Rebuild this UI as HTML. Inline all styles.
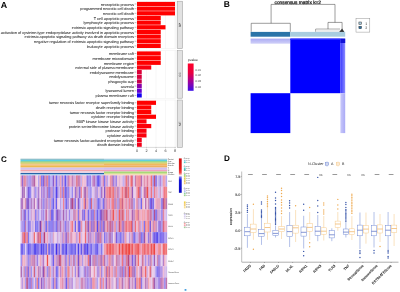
<!DOCTYPE html>
<html><head><meta charset="utf-8"><style>
html,body{margin:0;padding:0;background:#fff;overflow:hidden;}
svg{display:block;font-family:"Liberation Sans", sans-serif;text-rendering:geometricPrecision;filter:blur(0.3px);}
</style></head><body>
<svg width="400" height="292" viewBox="0 0 400 292">
<rect width="400" height="292" fill="#fff"/>
<text x="0.8" y="7.5" font-size="8.9" font-weight="bold" fill="#000">A</text>
<rect x="137.0" y="1.2" width="39.0" height="47.5" fill="#fff" stroke="#ebebeb" stroke-width="0.4"/>
<line x1="146.50" y1="1.2" x2="146.50" y2="48.7" stroke="#ebebeb" stroke-width="0.4"/>
<line x1="156.00" y1="1.2" x2="156.00" y2="48.7" stroke="#ebebeb" stroke-width="0.4"/>
<line x1="165.50" y1="1.2" x2="165.50" y2="48.7" stroke="#ebebeb" stroke-width="0.4"/>
<line x1="175.00" y1="1.2" x2="175.00" y2="48.7" stroke="#ebebeb" stroke-width="0.4"/>
<rect x="137.0" y="1.90" width="38.00" height="4.19" fill="#ff0000"/>
<text x="133.9" y="5.69" font-size="3.83" text-anchor="end" fill="#2a2a2a" stroke="#2a2a2a" stroke-width="0.05">necroptotic process</text>
<line x1="134.6" y1="3.99" x2="136.4" y2="3.99" stroke="#444" stroke-width="0.35"/>
<rect x="137.0" y="6.56" width="38.00" height="4.19" fill="#ff0000"/>
<text x="133.9" y="10.35" font-size="3.83" text-anchor="end" fill="#2a2a2a" stroke="#2a2a2a" stroke-width="0.05">programmed necrotic cell death</text>
<line x1="134.6" y1="8.65" x2="136.4" y2="8.65" stroke="#444" stroke-width="0.35"/>
<rect x="137.0" y="11.21" width="38.00" height="4.19" fill="#ff0000"/>
<text x="133.9" y="15.01" font-size="3.83" text-anchor="end" fill="#2a2a2a" stroke="#2a2a2a" stroke-width="0.05">necrotic cell death</text>
<line x1="134.6" y1="13.31" x2="136.4" y2="13.31" stroke="#444" stroke-width="0.35"/>
<rect x="137.0" y="15.87" width="23.75" height="4.19" fill="#ff0000"/>
<text x="133.9" y="19.66" font-size="3.83" text-anchor="end" fill="#2a2a2a" stroke="#2a2a2a" stroke-width="0.05">T cell apoptotic process</text>
<line x1="134.6" y1="17.96" x2="136.4" y2="17.96" stroke="#444" stroke-width="0.35"/>
<rect x="137.0" y="20.53" width="23.75" height="4.19" fill="#ff0000"/>
<text x="133.9" y="24.32" font-size="3.83" text-anchor="end" fill="#2a2a2a" stroke="#2a2a2a" stroke-width="0.05">lymphocyte apoptotic process</text>
<line x1="134.6" y1="22.62" x2="136.4" y2="22.62" stroke="#444" stroke-width="0.35"/>
<rect x="137.0" y="25.18" width="28.50" height="4.19" fill="#ff0000"/>
<text x="133.9" y="28.98" font-size="3.83" text-anchor="end" fill="#2a2a2a" stroke="#2a2a2a" stroke-width="0.05">extrinsic apoptotic signaling pathway</text>
<line x1="134.6" y1="27.28" x2="136.4" y2="27.28" stroke="#444" stroke-width="0.35"/>
<rect x="137.0" y="29.84" width="23.75" height="4.19" fill="#ff0000"/>
<text x="133.9" y="33.64" font-size="3.83" text-anchor="end" fill="#2a2a2a" stroke="#2a2a2a" stroke-width="0.05">activation of cysteine-type endopeptidase activity involved in apoptotic process</text>
<line x1="134.6" y1="31.94" x2="136.4" y2="31.94" stroke="#444" stroke-width="0.35"/>
<rect x="137.0" y="34.50" width="23.75" height="4.19" fill="#ff0000"/>
<text x="133.9" y="38.29" font-size="3.83" text-anchor="end" fill="#2a2a2a" stroke="#2a2a2a" stroke-width="0.05">extrinsic apoptotic signaling pathway via death domain receptors</text>
<line x1="134.6" y1="36.59" x2="136.4" y2="36.59" stroke="#444" stroke-width="0.35"/>
<rect x="137.0" y="39.15" width="23.75" height="4.19" fill="#ff0000"/>
<text x="133.9" y="42.95" font-size="3.83" text-anchor="end" fill="#2a2a2a" stroke="#2a2a2a" stroke-width="0.05">negative regulation of extrinsic apoptotic signaling pathway</text>
<line x1="134.6" y1="41.25" x2="136.4" y2="41.25" stroke="#444" stroke-width="0.35"/>
<rect x="137.0" y="43.81" width="23.75" height="4.19" fill="#ff0000"/>
<text x="133.9" y="47.61" font-size="3.83" text-anchor="end" fill="#2a2a2a" stroke="#2a2a2a" stroke-width="0.05">leukocyte apoptotic process</text>
<line x1="134.6" y1="45.91" x2="136.4" y2="45.91" stroke="#444" stroke-width="0.35"/>
<rect x="177.2" y="1.2" width="5.5" height="47.5" fill="#e2e2e2" stroke="#9a9a9a" stroke-width="0.5"/>
<text transform="translate(181.0,24.95) rotate(-90)" font-size="3.1" text-anchor="middle" fill="#333">BP</text>
<rect x="137.0" y="50.7" width="39.0" height="47.5" fill="#fff" stroke="#ebebeb" stroke-width="0.4"/>
<line x1="146.50" y1="50.7" x2="146.50" y2="98.2" stroke="#ebebeb" stroke-width="0.4"/>
<line x1="156.00" y1="50.7" x2="156.00" y2="98.2" stroke="#ebebeb" stroke-width="0.4"/>
<line x1="165.50" y1="50.7" x2="165.50" y2="98.2" stroke="#ebebeb" stroke-width="0.4"/>
<line x1="175.00" y1="50.7" x2="175.00" y2="98.2" stroke="#ebebeb" stroke-width="0.4"/>
<rect x="137.0" y="51.40" width="23.75" height="4.19" fill="#ff0000"/>
<text x="133.9" y="55.19" font-size="3.83" text-anchor="end" fill="#2a2a2a" stroke="#2a2a2a" stroke-width="0.05">membrane raft</text>
<line x1="134.6" y1="53.49" x2="136.4" y2="53.49" stroke="#444" stroke-width="0.35"/>
<rect x="137.0" y="56.06" width="23.75" height="4.19" fill="#ff0000"/>
<text x="133.9" y="59.85" font-size="3.83" text-anchor="end" fill="#2a2a2a" stroke="#2a2a2a" stroke-width="0.05">membrane microdomain</text>
<line x1="134.6" y1="58.15" x2="136.4" y2="58.15" stroke="#444" stroke-width="0.35"/>
<rect x="137.0" y="60.71" width="23.75" height="4.19" fill="#ff0000"/>
<text x="133.9" y="64.51" font-size="3.83" text-anchor="end" fill="#2a2a2a" stroke="#2a2a2a" stroke-width="0.05">membrane region</text>
<line x1="134.6" y1="62.81" x2="136.4" y2="62.81" stroke="#444" stroke-width="0.35"/>
<rect x="137.0" y="65.37" width="14.25" height="4.19" fill="#f80010"/>
<text x="133.9" y="69.16" font-size="3.83" text-anchor="end" fill="#2a2a2a" stroke="#2a2a2a" stroke-width="0.05">external side of plasma membrane</text>
<line x1="134.6" y1="67.46" x2="136.4" y2="67.46" stroke="#444" stroke-width="0.35"/>
<rect x="137.0" y="70.03" width="4.75" height="4.19" fill="#dc0038"/>
<text x="133.9" y="73.82" font-size="3.83" text-anchor="end" fill="#2a2a2a" stroke="#2a2a2a" stroke-width="0.05">endolysosome membrane</text>
<line x1="134.6" y1="72.12" x2="136.4" y2="72.12" stroke="#444" stroke-width="0.35"/>
<rect x="137.0" y="74.68" width="4.75" height="4.19" fill="#d8003e"/>
<text x="133.9" y="78.48" font-size="3.83" text-anchor="end" fill="#2a2a2a" stroke="#2a2a2a" stroke-width="0.05">endolysosome</text>
<line x1="134.6" y1="76.78" x2="136.4" y2="76.78" stroke="#444" stroke-width="0.35"/>
<rect x="137.0" y="79.34" width="4.75" height="4.19" fill="#c8004c"/>
<text x="133.9" y="83.14" font-size="3.83" text-anchor="end" fill="#2a2a2a" stroke="#2a2a2a" stroke-width="0.05">phagocytic cup</text>
<line x1="134.6" y1="81.44" x2="136.4" y2="81.44" stroke="#444" stroke-width="0.35"/>
<rect x="137.0" y="84.00" width="4.75" height="4.19" fill="#8a00a8"/>
<text x="133.9" y="87.79" font-size="3.83" text-anchor="end" fill="#2a2a2a" stroke="#2a2a2a" stroke-width="0.05">caveola</text>
<line x1="134.6" y1="86.09" x2="136.4" y2="86.09" stroke="#444" stroke-width="0.35"/>
<rect x="137.0" y="88.65" width="4.75" height="4.19" fill="#6400d0"/>
<text x="133.9" y="92.45" font-size="3.83" text-anchor="end" fill="#2a2a2a" stroke="#2a2a2a" stroke-width="0.05">lysosomal lumen</text>
<line x1="134.6" y1="90.75" x2="136.4" y2="90.75" stroke="#444" stroke-width="0.35"/>
<rect x="137.0" y="93.31" width="4.75" height="4.19" fill="#1400f0"/>
<text x="133.9" y="97.11" font-size="3.83" text-anchor="end" fill="#2a2a2a" stroke="#2a2a2a" stroke-width="0.05">plasma membrane raft</text>
<line x1="134.6" y1="95.41" x2="136.4" y2="95.41" stroke="#444" stroke-width="0.35"/>
<rect x="177.2" y="50.7" width="5.5" height="47.5" fill="#e2e2e2" stroke="#9a9a9a" stroke-width="0.5"/>
<text transform="translate(181.0,74.45) rotate(-90)" font-size="3.1" text-anchor="middle" fill="#333">CC</text>
<rect x="137.0" y="100.0" width="39.0" height="47.5" fill="#fff" stroke="#ebebeb" stroke-width="0.4"/>
<line x1="146.50" y1="100.0" x2="146.50" y2="147.5" stroke="#ebebeb" stroke-width="0.4"/>
<line x1="156.00" y1="100.0" x2="156.00" y2="147.5" stroke="#ebebeb" stroke-width="0.4"/>
<line x1="165.50" y1="100.0" x2="165.50" y2="147.5" stroke="#ebebeb" stroke-width="0.4"/>
<line x1="175.00" y1="100.0" x2="175.00" y2="147.5" stroke="#ebebeb" stroke-width="0.4"/>
<rect x="137.0" y="100.70" width="19.00" height="4.19" fill="#ff0000"/>
<text x="133.9" y="104.49" font-size="3.83" text-anchor="end" fill="#2a2a2a" stroke="#2a2a2a" stroke-width="0.05">tumor necrosis factor receptor superfamily binding</text>
<line x1="134.6" y1="102.79" x2="136.4" y2="102.79" stroke="#444" stroke-width="0.35"/>
<rect x="137.0" y="105.36" width="14.25" height="4.19" fill="#ff0000"/>
<text x="133.9" y="109.15" font-size="3.83" text-anchor="end" fill="#2a2a2a" stroke="#2a2a2a" stroke-width="0.05">death receptor binding</text>
<line x1="134.6" y1="107.45" x2="136.4" y2="107.45" stroke="#444" stroke-width="0.35"/>
<rect x="137.0" y="110.01" width="14.25" height="4.19" fill="#ff0000"/>
<text x="133.9" y="113.81" font-size="3.83" text-anchor="end" fill="#2a2a2a" stroke="#2a2a2a" stroke-width="0.05">tumor necrosis factor receptor binding</text>
<line x1="134.6" y1="112.11" x2="136.4" y2="112.11" stroke="#444" stroke-width="0.35"/>
<rect x="137.0" y="114.67" width="19.00" height="4.19" fill="#ff0000"/>
<text x="133.9" y="118.46" font-size="3.83" text-anchor="end" fill="#2a2a2a" stroke="#2a2a2a" stroke-width="0.05">cytokine receptor binding</text>
<line x1="134.6" y1="116.76" x2="136.4" y2="116.76" stroke="#444" stroke-width="0.35"/>
<rect x="137.0" y="119.33" width="9.50" height="4.19" fill="#fc0008"/>
<text x="133.9" y="123.12" font-size="3.83" text-anchor="end" fill="#2a2a2a" stroke="#2a2a2a" stroke-width="0.05">MAP kinase kinase kinase activity</text>
<line x1="134.6" y1="121.42" x2="136.4" y2="121.42" stroke="#444" stroke-width="0.35"/>
<rect x="137.0" y="123.98" width="14.25" height="4.19" fill="#fc0008"/>
<text x="133.9" y="127.78" font-size="3.83" text-anchor="end" fill="#2a2a2a" stroke="#2a2a2a" stroke-width="0.05">protein serine/threonine kinase activity</text>
<line x1="134.6" y1="126.08" x2="136.4" y2="126.08" stroke="#444" stroke-width="0.35"/>
<rect x="137.0" y="128.64" width="9.50" height="4.19" fill="#fa000c"/>
<text x="133.9" y="132.44" font-size="3.83" text-anchor="end" fill="#2a2a2a" stroke="#2a2a2a" stroke-width="0.05">protease binding</text>
<line x1="134.6" y1="130.74" x2="136.4" y2="130.74" stroke="#444" stroke-width="0.35"/>
<rect x="137.0" y="133.30" width="9.50" height="4.19" fill="#fa000c"/>
<text x="133.9" y="137.09" font-size="3.83" text-anchor="end" fill="#2a2a2a" stroke="#2a2a2a" stroke-width="0.05">cytokine activity</text>
<line x1="134.6" y1="135.39" x2="136.4" y2="135.39" stroke="#444" stroke-width="0.35"/>
<rect x="137.0" y="137.95" width="4.75" height="4.19" fill="#f20018"/>
<text x="133.9" y="141.75" font-size="3.83" text-anchor="end" fill="#2a2a2a" stroke="#2a2a2a" stroke-width="0.05">tumor necrosis factor-activated receptor activity</text>
<line x1="134.6" y1="140.05" x2="136.4" y2="140.05" stroke="#444" stroke-width="0.35"/>
<rect x="137.0" y="142.61" width="4.75" height="4.19" fill="#f20018"/>
<text x="133.9" y="146.41" font-size="3.83" text-anchor="end" fill="#2a2a2a" stroke="#2a2a2a" stroke-width="0.05">death domain binding</text>
<line x1="134.6" y1="144.71" x2="136.4" y2="144.71" stroke="#444" stroke-width="0.35"/>
<rect x="177.2" y="100.0" width="5.5" height="47.5" fill="#e2e2e2" stroke="#9a9a9a" stroke-width="0.5"/>
<text transform="translate(181.0,123.75) rotate(-90)" font-size="3.1" text-anchor="middle" fill="#333">MF</text>
<line x1="137.0" y1="147.4" x2="176.0" y2="147.4" stroke="#b4b4b4" stroke-width="0.4"/>
<line x1="137.00" y1="147.4" x2="137.00" y2="148.4" stroke="#888" stroke-width="0.35"/>
<text x="137.00" y="152.1" font-size="3.7" text-anchor="middle" fill="#333">0</text>
<line x1="146.50" y1="147.4" x2="146.50" y2="148.4" stroke="#888" stroke-width="0.35"/>
<text x="146.50" y="152.1" font-size="3.7" text-anchor="middle" fill="#333">2</text>
<line x1="156.00" y1="147.4" x2="156.00" y2="148.4" stroke="#888" stroke-width="0.35"/>
<text x="156.00" y="152.1" font-size="3.7" text-anchor="middle" fill="#333">4</text>
<line x1="165.50" y1="147.4" x2="165.50" y2="148.4" stroke="#888" stroke-width="0.35"/>
<text x="165.50" y="152.1" font-size="3.7" text-anchor="middle" fill="#333">6</text>
<line x1="175.00" y1="147.4" x2="175.00" y2="148.4" stroke="#888" stroke-width="0.35"/>
<text x="175.00" y="152.1" font-size="3.7" text-anchor="middle" fill="#333">8</text>
<text x="187.9" y="61.3" font-size="3.4" fill="#1a1a1a">pvalue</text>
<defs><linearGradient id="pg" x1="0" y1="0" x2="0" y2="1"><stop offset="0" stop-color="#ff0028"/><stop offset="0.35" stop-color="#e80040"/><stop offset="0.65" stop-color="#a40098"/><stop offset="1" stop-color="#3c10e8"/></linearGradient></defs>
<rect x="187.8" y="63.5" width="5.8" height="27.3" fill="url(#pg)"/>
<text x="195.2" y="70.60" font-size="3" fill="#4d4d4d">0.01</text>
<text x="195.2" y="76.45" font-size="3" fill="#4d4d4d">0.02</text>
<text x="195.2" y="82.30" font-size="3" fill="#4d4d4d">0.03</text>
<text x="195.2" y="88.15" font-size="3" fill="#4d4d4d">0.04</text>
<text x="223.8" y="6.9" font-size="8.5" font-weight="bold" fill="#000">B</text>
<text x="274.5" y="3.9" font-size="4.8" fill="#111" stroke="#111" stroke-width="0.22">consensus matrix k=2</text>
<path d="M271.1 4.4 H335.0 M271.1 4.4 V23.3 M335.0 4.4 V22.4 M251.2 23.3 H290.3 M251.2 23.3 V31.8 M290.3 23.3 V31.8 M328 22.4 H342.1 M328 22.4 V29.1 M342.1 22.4 V29.5 M315.7 29.1 H340 M315.7 29.1 V31.8" stroke="#3a3a3a" stroke-width="0.5" fill="none"/>
<rect x="316" y="29.6" width="24" height="2.2" fill="#ececec"/>
<path d="M339.2 31.9 L342.1 28.4 L344.4 31.9 Z" fill="#333"/>
<rect x="250.6" y="31.9" width="39.7" height="4.8" fill="#2a74a8"/>
<rect x="290.3" y="31.9" width="54.9" height="4.8" fill="#a9cde0"/>
<rect x="250.6" y="38.6" width="94.6" height="94.5" fill="#fff"/>
<defs><linearGradient id="lav" x1="0" y1="0" x2="0" y2="1"><stop offset="0" stop-color="#acacf4"/><stop offset="1" stop-color="#d0d0f8"/></linearGradient><linearGradient id="rs" x1="0" y1="0" x2="1" y2="0"><stop offset="0" stop-color="#3a3aff"/><stop offset="1" stop-color="#8a8aff"/></linearGradient><linearGradient id="rs2" x1="0" y1="0" x2="1" y2="0"><stop offset="0" stop-color="#c8c8fa"/><stop offset="1" stop-color="#aaaaf6"/></linearGradient></defs>
<rect x="250.6" y="38.6" width="39.7" height="5.1" fill="url(#lav)"/>
<rect x="290.3" y="38.6" width="50.1" height="54.6" fill="#0000ff"/>
<rect x="250.6" y="93.2" width="39.7" height="39.9" fill="#0000ff"/>
<rect x="290.3" y="38.6" width="50.1" height="1.4" fill="#2828ff"/>
<rect x="340.4" y="38.6" width="4.8" height="54.6" fill="url(#rs)"/>
<rect x="340.4" y="38.6" width="4.8" height="4.4" fill="#1010d8"/>
<rect x="340.4" y="93.2" width="4.8" height="39.9" fill="url(#rs2)"/>
<rect x="356" y="18.3" width="13.8" height="13.8" fill="#fff" stroke="#888" stroke-width="0.45"/>
<rect x="358.9" y="22.0" width="2.6" height="2.4" fill="#a9cde0" stroke="#333" stroke-width="0.5"/>
<rect x="358.9" y="26.3" width="2.6" height="2.4" fill="#2a74a8" stroke="#333" stroke-width="0.5"/>
<text x="365.3" y="24.6" font-size="3.5" fill="#333">1</text>
<text x="365.3" y="28.9" font-size="3.5" fill="#333">2</text>
<text x="1.1" y="161.6" font-size="8.1" font-weight="bold" fill="#000">C</text>
<rect x="20.5" y="158.75" width="83.5" height="1.00" fill="#7aa8b4"/>
<rect x="104.0" y="158.75" width="63.099999999999994" height="1.00" fill="#a0c0d8"/>
<rect x="20.5" y="159.75" width="83.5" height="1.50" fill="#5ccfe4"/>
<rect x="104.0" y="159.75" width="63.099999999999994" height="1.50" fill="#60d0e0"/>
<rect x="20.5" y="161.25" width="83.5" height="1.25" fill="#78c880"/>
<rect x="104.0" y="161.25" width="63.099999999999994" height="1.25" fill="#80d070"/>
<rect x="20.5" y="162.5" width="83.5" height="1.25" fill="#c4c84a"/>
<rect x="104.0" y="162.5" width="63.099999999999994" height="1.25" fill="#d0c850"/>
<rect x="20.5" y="163.75" width="83.5" height="1.50" fill="#f2c88e"/>
<rect x="104.0" y="163.75" width="63.099999999999994" height="1.50" fill="#f0b860"/>
<rect x="20.5" y="165.25" width="83.5" height="2.35" fill="#f0b850"/>
<rect x="104.0" y="165.25" width="63.099999999999994" height="2.35" fill="#f0b060"/>
<rect x="20.5" y="167.6" width="83.5" height="2.20" fill="#d4c4f0"/>
<rect x="104.0" y="167.6" width="63.099999999999994" height="2.20" fill="#d0c0f0"/>
<rect x="20.5" y="169.8" width="83.5" height="1.70" fill="#f2a4ac"/>
<rect x="104.0" y="169.8" width="63.099999999999994" height="1.70" fill="#f0a0c0"/>
<rect x="20.5" y="171.5" width="83.5" height="1.50" fill="#e4d4e6"/>
<rect x="104.0" y="171.5" width="63.099999999999994" height="1.50" fill="#a8d878"/>
<rect x="20.5" y="173.0" width="83.5" height="1.40" fill="#2464a8"/>
<rect x="104.0" y="173.0" width="63.099999999999994" height="1.40" fill="#d0e098"/>
<rect x="20.5" y="174.4" width="83.5" height="1.00" fill="#a8d4f0"/>
<rect x="104.0" y="174.4" width="63.099999999999994" height="1.00" fill="#f8d0a8"/>
<rect x="20.50" y="175.40" width="1.52" height="11.40" fill="#d797c1"/>
<rect x="21.97" y="175.40" width="1.52" height="11.40" fill="#946ad5"/>
<rect x="23.43" y="175.40" width="1.52" height="11.40" fill="#dd83a3"/>
<rect x="24.90" y="175.40" width="1.52" height="11.40" fill="#e695ac"/>
<rect x="26.36" y="175.40" width="1.52" height="11.40" fill="#b788d1"/>
<rect x="27.83" y="175.40" width="1.52" height="11.40" fill="#b5a5f1"/>
<rect x="29.30" y="175.40" width="1.52" height="11.40" fill="#9282ef"/>
<rect x="30.76" y="175.40" width="1.52" height="11.40" fill="#c49cdd"/>
<rect x="32.23" y="175.40" width="1.52" height="11.40" fill="#b370b4"/>
<rect x="33.69" y="175.40" width="1.52" height="11.40" fill="#b461a6"/>
<rect x="35.16" y="175.40" width="1.52" height="11.40" fill="#e3b4d3"/>
<rect x="36.63" y="175.40" width="1.52" height="11.40" fill="#f1d6ea"/>
<rect x="38.09" y="175.40" width="1.52" height="11.40" fill="#ac9aee"/>
<rect x="39.56" y="175.40" width="1.52" height="11.40" fill="#e99cb0"/>
<rect x="41.02" y="175.40" width="1.52" height="11.40" fill="#8676ee"/>
<rect x="42.49" y="175.40" width="1.52" height="11.40" fill="#8261df"/>
<rect x="43.96" y="175.40" width="1.52" height="11.40" fill="#c881b1"/>
<rect x="45.42" y="175.40" width="1.52" height="11.40" fill="#b679c4"/>
<rect x="46.89" y="175.40" width="1.52" height="11.40" fill="#e78698"/>
<rect x="48.35" y="175.40" width="1.52" height="11.40" fill="#7b68e9"/>
<rect x="49.82" y="175.40" width="1.52" height="11.40" fill="#beaef1"/>
<rect x="51.29" y="175.40" width="1.52" height="11.40" fill="#ae9ef1"/>
<rect x="52.75" y="175.40" width="1.52" height="11.40" fill="#895acd"/>
<rect x="54.22" y="175.40" width="1.52" height="11.40" fill="#d7a5d7"/>
<rect x="55.68" y="175.40" width="1.52" height="11.40" fill="#7566ed"/>
<rect x="57.15" y="175.40" width="1.52" height="11.40" fill="#b99ce7"/>
<rect x="58.62" y="175.40" width="1.52" height="11.40" fill="#bfa1e6"/>
<rect x="60.08" y="175.40" width="1.52" height="11.40" fill="#eca0b8"/>
<rect x="61.55" y="175.40" width="1.52" height="11.40" fill="#977ce5"/>
<rect x="63.01" y="175.40" width="1.52" height="11.40" fill="#dba9d7"/>
<rect x="64.48" y="175.40" width="1.52" height="11.40" fill="#6152ec"/>
<rect x="65.95" y="175.40" width="1.52" height="11.40" fill="#b5a3ef"/>
<rect x="67.41" y="175.40" width="1.52" height="11.40" fill="#b474bf"/>
<rect x="68.88" y="175.40" width="1.52" height="11.40" fill="#e89bb7"/>
<rect x="70.34" y="175.40" width="1.52" height="11.40" fill="#e7a4c5"/>
<rect x="71.81" y="175.40" width="1.52" height="11.40" fill="#c180bd"/>
<rect x="73.28" y="175.40" width="1.52" height="11.40" fill="#cd98d0"/>
<rect x="74.74" y="175.40" width="1.52" height="11.40" fill="#dcb3df"/>
<rect x="76.21" y="175.40" width="1.52" height="11.40" fill="#db657a"/>
<rect x="77.67" y="175.40" width="1.52" height="11.40" fill="#c77eb6"/>
<rect x="79.14" y="175.40" width="1.52" height="11.40" fill="#c876ad"/>
<rect x="80.61" y="175.40" width="1.52" height="11.40" fill="#c6b0ec"/>
<rect x="82.07" y="175.40" width="1.52" height="11.40" fill="#f0b2c7"/>
<rect x="83.54" y="175.40" width="1.52" height="11.40" fill="#edbfda"/>
<rect x="85.00" y="175.40" width="1.52" height="11.40" fill="#f0bfd9"/>
<rect x="86.47" y="175.40" width="1.52" height="11.40" fill="#9072e2"/>
<rect x="87.94" y="175.40" width="1.52" height="11.40" fill="#a090f0"/>
<rect x="89.40" y="175.40" width="1.52" height="11.40" fill="#8671ea"/>
<rect x="90.87" y="175.40" width="1.52" height="11.40" fill="#d2c2f3"/>
<rect x="92.33" y="175.40" width="1.52" height="11.40" fill="#ba78bf"/>
<rect x="93.80" y="175.40" width="1.52" height="11.40" fill="#bb74bc"/>
<rect x="95.27" y="175.40" width="1.52" height="11.40" fill="#b695e3"/>
<rect x="96.73" y="175.40" width="1.52" height="11.40" fill="#7768ed"/>
<rect x="98.20" y="175.40" width="1.52" height="11.40" fill="#493beb"/>
<rect x="99.66" y="175.40" width="1.52" height="11.40" fill="#ac95eb"/>
<rect x="101.13" y="175.40" width="1.52" height="11.40" fill="#d6aadb"/>
<rect x="102.60" y="175.40" width="1.52" height="11.40" fill="#d184b5"/>
<rect x="104.06" y="175.40" width="1.52" height="11.40" fill="#7a6ced"/>
<rect x="105.53" y="175.40" width="1.52" height="11.40" fill="#daa1d0"/>
<rect x="106.99" y="175.40" width="1.52" height="11.40" fill="#bea4e9"/>
<rect x="108.46" y="175.40" width="1.52" height="11.40" fill="#f1c9e1"/>
<rect x="109.93" y="175.40" width="1.52" height="11.40" fill="#ef93a3"/>
<rect x="111.39" y="175.40" width="1.52" height="11.40" fill="#ca75a6"/>
<rect x="112.86" y="175.40" width="1.52" height="11.40" fill="#a27edf"/>
<rect x="114.32" y="175.40" width="1.52" height="11.40" fill="#bb93dc"/>
<rect x="115.79" y="175.40" width="1.52" height="11.40" fill="#a186e6"/>
<rect x="117.26" y="175.40" width="1.52" height="11.40" fill="#efbfd4"/>
<rect x="118.72" y="175.40" width="1.52" height="11.40" fill="#e3b4d4"/>
<rect x="120.19" y="175.40" width="1.52" height="11.40" fill="#ecbdd7"/>
<rect x="121.65" y="175.40" width="1.52" height="11.40" fill="#dcbce7"/>
<rect x="123.12" y="175.40" width="1.52" height="11.40" fill="#baa9ef"/>
<rect x="124.59" y="175.40" width="1.52" height="11.40" fill="#df95ba"/>
<rect x="126.05" y="175.40" width="1.52" height="11.40" fill="#ef7375"/>
<rect x="127.52" y="175.40" width="1.52" height="11.40" fill="#c482b5"/>
<rect x="128.98" y="175.40" width="1.52" height="11.40" fill="#f0bdd7"/>
<rect x="130.45" y="175.40" width="1.52" height="11.40" fill="#ee696e"/>
<rect x="131.92" y="175.40" width="1.52" height="11.40" fill="#d97899"/>
<rect x="133.38" y="175.40" width="1.52" height="11.40" fill="#dacaf3"/>
<rect x="134.85" y="175.40" width="1.52" height="11.40" fill="#ca7bab"/>
<rect x="136.31" y="175.40" width="1.52" height="11.40" fill="#ef8892"/>
<rect x="137.78" y="175.40" width="1.52" height="11.40" fill="#ef8ea2"/>
<rect x="139.25" y="175.40" width="1.52" height="11.40" fill="#ef757d"/>
<rect x="140.71" y="175.40" width="1.52" height="11.40" fill="#b56eb8"/>
<rect x="142.18" y="175.40" width="1.52" height="11.40" fill="#e5b9d9"/>
<rect x="143.64" y="175.40" width="1.52" height="11.40" fill="#e294b0"/>
<rect x="145.11" y="175.40" width="1.52" height="11.40" fill="#efaec8"/>
<rect x="146.58" y="175.40" width="1.52" height="11.40" fill="#df83a0"/>
<rect x="148.04" y="175.40" width="1.52" height="11.40" fill="#edb0c5"/>
<rect x="149.51" y="175.40" width="1.52" height="11.40" fill="#efa4c0"/>
<rect x="150.97" y="175.40" width="1.52" height="11.40" fill="#ef7579"/>
<rect x="152.44" y="175.40" width="1.52" height="11.40" fill="#9e8ff0"/>
<rect x="153.91" y="175.40" width="1.52" height="11.40" fill="#c4507b"/>
<rect x="155.37" y="175.40" width="1.52" height="11.40" fill="#7b60e3"/>
<rect x="156.84" y="175.40" width="1.52" height="11.40" fill="#d9c3ee"/>
<rect x="158.30" y="175.40" width="1.52" height="11.40" fill="#ae9ff1"/>
<rect x="159.77" y="175.40" width="1.52" height="11.40" fill="#b588d9"/>
<rect x="161.24" y="175.40" width="1.52" height="11.40" fill="#bdadf2"/>
<rect x="162.70" y="175.40" width="1.52" height="11.40" fill="#f0a0ad"/>
<rect x="164.17" y="175.40" width="1.52" height="11.40" fill="#ef97aa"/>
<rect x="165.63" y="175.40" width="1.52" height="11.40" fill="#b7a6f0"/>
<rect x="20.50" y="186.75" width="1.52" height="11.40" fill="#e6cceb"/>
<rect x="21.97" y="186.75" width="1.52" height="11.40" fill="#a26ac1"/>
<rect x="23.43" y="186.75" width="1.52" height="11.40" fill="#ac6ab4"/>
<rect x="24.90" y="186.75" width="1.52" height="11.40" fill="#eddbf2"/>
<rect x="26.36" y="186.75" width="1.52" height="11.40" fill="#b498e7"/>
<rect x="27.83" y="186.75" width="1.52" height="11.40" fill="#7a5be0"/>
<rect x="29.30" y="186.75" width="1.52" height="11.40" fill="#6859ed"/>
<rect x="30.76" y="186.75" width="1.52" height="11.40" fill="#d1bdef"/>
<rect x="32.23" y="186.75" width="1.52" height="11.40" fill="#e5c5e7"/>
<rect x="33.69" y="186.75" width="1.52" height="11.40" fill="#be98df"/>
<rect x="35.16" y="186.75" width="1.52" height="11.40" fill="#9989ef"/>
<rect x="36.63" y="186.75" width="1.52" height="11.40" fill="#d3b4e6"/>
<rect x="38.09" y="186.75" width="1.52" height="11.40" fill="#a375d1"/>
<rect x="39.56" y="186.75" width="1.52" height="11.40" fill="#f1cde3"/>
<rect x="41.02" y="186.75" width="1.52" height="11.40" fill="#a785e1"/>
<rect x="42.49" y="186.75" width="1.52" height="11.40" fill="#b587d8"/>
<rect x="43.96" y="186.75" width="1.52" height="11.40" fill="#b58cdc"/>
<rect x="45.42" y="186.75" width="1.52" height="11.40" fill="#bda1e8"/>
<rect x="46.89" y="186.75" width="1.52" height="11.40" fill="#bc79b4"/>
<rect x="48.35" y="186.75" width="1.52" height="11.40" fill="#6d5eed"/>
<rect x="49.82" y="186.75" width="1.52" height="11.40" fill="#b58cdb"/>
<rect x="51.29" y="186.75" width="1.52" height="11.40" fill="#b980c3"/>
<rect x="52.75" y="186.75" width="1.52" height="11.40" fill="#9586ef"/>
<rect x="54.22" y="186.75" width="1.52" height="11.40" fill="#b6a0ec"/>
<rect x="55.68" y="186.75" width="1.52" height="11.40" fill="#5344eb"/>
<rect x="57.15" y="186.75" width="1.52" height="11.40" fill="#8f70e1"/>
<rect x="58.62" y="186.75" width="1.52" height="11.40" fill="#cebaef"/>
<rect x="60.08" y="186.75" width="1.52" height="11.40" fill="#e288a3"/>
<rect x="61.55" y="186.75" width="1.52" height="11.40" fill="#a582e1"/>
<rect x="63.01" y="186.75" width="1.52" height="11.40" fill="#df7e98"/>
<rect x="64.48" y="186.75" width="1.52" height="11.40" fill="#7162ed"/>
<rect x="65.95" y="186.75" width="1.52" height="11.40" fill="#8f71e2"/>
<rect x="67.41" y="186.75" width="1.52" height="11.40" fill="#8677ee"/>
<rect x="68.88" y="186.75" width="1.52" height="11.40" fill="#cda7e0"/>
<rect x="70.34" y="186.75" width="1.52" height="11.40" fill="#c5b5f2"/>
<rect x="71.81" y="186.75" width="1.52" height="11.40" fill="#998aef"/>
<rect x="73.28" y="186.75" width="1.52" height="11.40" fill="#ebc6e2"/>
<rect x="74.74" y="186.75" width="1.52" height="11.40" fill="#9e6fd1"/>
<rect x="76.21" y="186.75" width="1.52" height="11.40" fill="#c17fb5"/>
<rect x="77.67" y="186.75" width="1.52" height="11.40" fill="#c3a6e6"/>
<rect x="79.14" y="186.75" width="1.52" height="11.40" fill="#7a54da"/>
<rect x="80.61" y="186.75" width="1.52" height="11.40" fill="#ef8a9b"/>
<rect x="82.07" y="186.75" width="1.52" height="11.40" fill="#eccee8"/>
<rect x="83.54" y="186.75" width="1.52" height="11.40" fill="#b776b9"/>
<rect x="85.00" y="186.75" width="1.52" height="11.40" fill="#ab6ab6"/>
<rect x="86.47" y="186.75" width="1.52" height="11.40" fill="#dc9dbf"/>
<rect x="87.94" y="186.75" width="1.52" height="11.40" fill="#b8a8f1"/>
<rect x="89.40" y="186.75" width="1.52" height="11.40" fill="#9c89ed"/>
<rect x="90.87" y="186.75" width="1.52" height="11.40" fill="#b8a8f1"/>
<rect x="92.33" y="186.75" width="1.52" height="11.40" fill="#e4c4e6"/>
<rect x="93.80" y="186.75" width="1.52" height="11.40" fill="#d2b7ea"/>
<rect x="95.27" y="186.75" width="1.52" height="11.40" fill="#b381cc"/>
<rect x="96.73" y="186.75" width="1.52" height="11.40" fill="#b195e6"/>
<rect x="98.20" y="186.75" width="1.52" height="11.40" fill="#e5b2d7"/>
<rect x="99.66" y="186.75" width="1.52" height="11.40" fill="#b7a7f0"/>
<rect x="101.13" y="186.75" width="1.52" height="11.40" fill="#9c61be"/>
<rect x="102.60" y="186.75" width="1.52" height="11.40" fill="#e6bcdd"/>
<rect x="104.06" y="186.75" width="1.52" height="11.40" fill="#824ec6"/>
<rect x="105.53" y="186.75" width="1.52" height="11.40" fill="#ef94a3"/>
<rect x="106.99" y="186.75" width="1.52" height="11.40" fill="#ef8694"/>
<rect x="108.46" y="186.75" width="1.52" height="11.40" fill="#ee6d77"/>
<rect x="109.93" y="186.75" width="1.52" height="11.40" fill="#e6737d"/>
<rect x="111.39" y="186.75" width="1.52" height="11.40" fill="#e8808e"/>
<rect x="112.86" y="186.75" width="1.52" height="11.40" fill="#ef7479"/>
<rect x="114.32" y="186.75" width="1.52" height="11.40" fill="#bf7eba"/>
<rect x="115.79" y="186.75" width="1.52" height="11.40" fill="#e7a5bb"/>
<rect x="117.26" y="186.75" width="1.52" height="11.40" fill="#b566aa"/>
<rect x="118.72" y="186.75" width="1.52" height="11.40" fill="#d0a9df"/>
<rect x="120.19" y="186.75" width="1.52" height="11.40" fill="#efa6bd"/>
<rect x="121.65" y="186.75" width="1.52" height="11.40" fill="#ee7a85"/>
<rect x="123.12" y="186.75" width="1.52" height="11.40" fill="#ee96af"/>
<rect x="124.59" y="186.75" width="1.52" height="11.40" fill="#d7627a"/>
<rect x="126.05" y="186.75" width="1.52" height="11.40" fill="#ca5b81"/>
<rect x="127.52" y="186.75" width="1.52" height="11.40" fill="#ef7073"/>
<rect x="128.98" y="186.75" width="1.52" height="11.40" fill="#dea3c7"/>
<rect x="130.45" y="186.75" width="1.52" height="11.40" fill="#d996b6"/>
<rect x="131.92" y="186.75" width="1.52" height="11.40" fill="#975bbc"/>
<rect x="133.38" y="186.75" width="1.52" height="11.40" fill="#eacfea"/>
<rect x="134.85" y="186.75" width="1.52" height="11.40" fill="#eacbe8"/>
<rect x="136.31" y="186.75" width="1.52" height="11.40" fill="#ef8e9f"/>
<rect x="137.78" y="186.75" width="1.52" height="11.40" fill="#ee646a"/>
<rect x="139.25" y="186.75" width="1.52" height="11.40" fill="#b44f8f"/>
<rect x="140.71" y="186.75" width="1.52" height="11.40" fill="#bcacf1"/>
<rect x="142.18" y="186.75" width="1.52" height="11.40" fill="#efc9e2"/>
<rect x="143.64" y="186.75" width="1.52" height="11.40" fill="#c272b0"/>
<rect x="145.11" y="186.75" width="1.52" height="11.40" fill="#ca72a4"/>
<rect x="146.58" y="186.75" width="1.52" height="11.40" fill="#ee504c"/>
<rect x="148.04" y="186.75" width="1.52" height="11.40" fill="#e19abf"/>
<rect x="149.51" y="186.75" width="1.52" height="11.40" fill="#dda6cc"/>
<rect x="150.97" y="186.75" width="1.52" height="11.40" fill="#ee7483"/>
<rect x="152.44" y="186.75" width="1.52" height="11.40" fill="#beaef2"/>
<rect x="153.91" y="186.75" width="1.52" height="11.40" fill="#ee7b8b"/>
<rect x="155.37" y="186.75" width="1.52" height="11.40" fill="#d79cc3"/>
<rect x="156.84" y="186.75" width="1.52" height="11.40" fill="#efb5d0"/>
<rect x="158.30" y="186.75" width="1.52" height="11.40" fill="#c7b1ec"/>
<rect x="159.77" y="186.75" width="1.52" height="11.40" fill="#d69dc4"/>
<rect x="161.24" y="186.75" width="1.52" height="11.40" fill="#dec8ee"/>
<rect x="162.70" y="186.75" width="1.52" height="11.40" fill="#ee97b5"/>
<rect x="164.17" y="186.75" width="1.52" height="11.40" fill="#ee646a"/>
<rect x="165.63" y="186.75" width="1.52" height="11.40" fill="#ef868d"/>
<rect x="20.50" y="198.10" width="1.52" height="11.40" fill="#b07cca"/>
<rect x="21.97" y="198.10" width="1.52" height="11.40" fill="#b575be"/>
<rect x="23.43" y="198.10" width="1.52" height="11.40" fill="#f1c9e0"/>
<rect x="24.90" y="198.10" width="1.52" height="11.40" fill="#d694b6"/>
<rect x="26.36" y="198.10" width="1.52" height="11.40" fill="#7d4ecc"/>
<rect x="27.83" y="198.10" width="1.52" height="11.40" fill="#8b5aca"/>
<rect x="29.30" y="198.10" width="1.52" height="11.40" fill="#b297e8"/>
<rect x="30.76" y="198.10" width="1.52" height="11.40" fill="#b580c8"/>
<rect x="32.23" y="198.10" width="1.52" height="11.40" fill="#cea8e0"/>
<rect x="33.69" y="198.10" width="1.52" height="11.40" fill="#b573b9"/>
<rect x="35.16" y="198.10" width="1.52" height="11.40" fill="#f1d0e6"/>
<rect x="36.63" y="198.10" width="1.52" height="11.40" fill="#b593e1"/>
<rect x="38.09" y="198.10" width="1.52" height="11.40" fill="#9755b3"/>
<rect x="39.56" y="198.10" width="1.52" height="11.40" fill="#dfbde4"/>
<rect x="41.02" y="198.10" width="1.52" height="11.40" fill="#b584cd"/>
<rect x="42.49" y="198.10" width="1.52" height="11.40" fill="#9b8aee"/>
<rect x="43.96" y="198.10" width="1.52" height="11.40" fill="#b694e2"/>
<rect x="45.42" y="198.10" width="1.52" height="11.40" fill="#b37fca"/>
<rect x="46.89" y="198.10" width="1.52" height="11.40" fill="#d69dc8"/>
<rect x="48.35" y="198.10" width="1.52" height="11.40" fill="#a589e5"/>
<rect x="49.82" y="198.10" width="1.52" height="11.40" fill="#d59dc6"/>
<rect x="51.29" y="198.10" width="1.52" height="11.40" fill="#8e7eef"/>
<rect x="52.75" y="198.10" width="1.52" height="11.40" fill="#6d5fed"/>
<rect x="54.22" y="198.10" width="1.52" height="11.40" fill="#cba7e2"/>
<rect x="55.68" y="198.10" width="1.52" height="11.40" fill="#6b5ced"/>
<rect x="57.15" y="198.10" width="1.52" height="11.40" fill="#e4bbdf"/>
<rect x="58.62" y="198.10" width="1.52" height="11.40" fill="#e7d5f2"/>
<rect x="60.08" y="198.10" width="1.52" height="11.40" fill="#b79ae6"/>
<rect x="61.55" y="198.10" width="1.52" height="11.40" fill="#d4bfee"/>
<rect x="63.01" y="198.10" width="1.52" height="11.40" fill="#ee8293"/>
<rect x="64.48" y="198.10" width="1.52" height="11.40" fill="#a090ef"/>
<rect x="65.95" y="198.10" width="1.52" height="11.40" fill="#7869ed"/>
<rect x="67.41" y="198.10" width="1.52" height="11.40" fill="#a380e0"/>
<rect x="68.88" y="198.10" width="1.52" height="11.40" fill="#e5c8e9"/>
<rect x="70.34" y="198.10" width="1.52" height="11.40" fill="#9856b3"/>
<rect x="71.81" y="198.10" width="1.52" height="11.40" fill="#b44986"/>
<rect x="73.28" y="198.10" width="1.52" height="11.40" fill="#b576c1"/>
<rect x="74.74" y="198.10" width="1.52" height="11.40" fill="#8778ee"/>
<rect x="76.21" y="198.10" width="1.52" height="11.40" fill="#eebfdb"/>
<rect x="77.67" y="198.10" width="1.52" height="11.40" fill="#8857ca"/>
<rect x="79.14" y="198.10" width="1.52" height="11.40" fill="#9a8aef"/>
<rect x="80.61" y="198.10" width="1.52" height="11.40" fill="#f0c5dd"/>
<rect x="82.07" y="198.10" width="1.52" height="11.40" fill="#cfb6eb"/>
<rect x="83.54" y="198.10" width="1.52" height="11.40" fill="#ef838a"/>
<rect x="85.00" y="198.10" width="1.52" height="11.40" fill="#a05eb3"/>
<rect x="86.47" y="198.10" width="1.52" height="11.40" fill="#f0a2b3"/>
<rect x="87.94" y="198.10" width="1.52" height="11.40" fill="#c9aee9"/>
<rect x="89.40" y="198.10" width="1.52" height="11.40" fill="#7c6dee"/>
<rect x="90.87" y="198.10" width="1.52" height="11.40" fill="#d96b84"/>
<rect x="92.33" y="198.10" width="1.52" height="11.40" fill="#bbabf1"/>
<rect x="93.80" y="198.10" width="1.52" height="11.40" fill="#daa0c8"/>
<rect x="95.27" y="198.10" width="1.52" height="11.40" fill="#c691ca"/>
<rect x="96.73" y="198.10" width="1.52" height="11.40" fill="#9687ef"/>
<rect x="98.20" y="198.10" width="1.52" height="11.40" fill="#5b4dec"/>
<rect x="99.66" y="198.10" width="1.52" height="11.40" fill="#b099ea"/>
<rect x="101.13" y="198.10" width="1.52" height="11.40" fill="#caa6e2"/>
<rect x="102.60" y="198.10" width="1.52" height="11.40" fill="#7d6eee"/>
<rect x="104.06" y="198.10" width="1.52" height="11.40" fill="#ae77c3"/>
<rect x="105.53" y="198.10" width="1.52" height="11.40" fill="#d090c2"/>
<rect x="106.99" y="198.10" width="1.52" height="11.40" fill="#ee96b5"/>
<rect x="108.46" y="198.10" width="1.52" height="11.40" fill="#e18aa7"/>
<rect x="109.93" y="198.10" width="1.52" height="11.40" fill="#d7afdf"/>
<rect x="111.39" y="198.10" width="1.52" height="11.40" fill="#ee7483"/>
<rect x="112.86" y="198.10" width="1.52" height="11.40" fill="#ee7a87"/>
<rect x="114.32" y="198.10" width="1.52" height="11.40" fill="#aa6ebc"/>
<rect x="115.79" y="198.10" width="1.52" height="11.40" fill="#db98b6"/>
<rect x="117.26" y="198.10" width="1.52" height="11.40" fill="#9f86e8"/>
<rect x="118.72" y="198.10" width="1.52" height="11.40" fill="#c986b5"/>
<rect x="120.19" y="198.10" width="1.52" height="11.40" fill="#ef777b"/>
<rect x="121.65" y="198.10" width="1.52" height="11.40" fill="#ce6084"/>
<rect x="123.12" y="198.10" width="1.52" height="11.40" fill="#ef96a5"/>
<rect x="124.59" y="198.10" width="1.52" height="11.40" fill="#e3a0c2"/>
<rect x="126.05" y="198.10" width="1.52" height="11.40" fill="#e78da3"/>
<rect x="127.52" y="198.10" width="1.52" height="11.40" fill="#de9ec4"/>
<rect x="128.98" y="198.10" width="1.52" height="11.40" fill="#ee7f93"/>
<rect x="130.45" y="198.10" width="1.52" height="11.40" fill="#c57ab3"/>
<rect x="131.92" y="198.10" width="1.52" height="11.40" fill="#c37eb3"/>
<rect x="133.38" y="198.10" width="1.52" height="11.40" fill="#9b8bf0"/>
<rect x="134.85" y="198.10" width="1.52" height="11.40" fill="#f0c7df"/>
<rect x="136.31" y="198.10" width="1.52" height="11.40" fill="#dc7d9c"/>
<rect x="137.78" y="198.10" width="1.52" height="11.40" fill="#c197d9"/>
<rect x="139.25" y="198.10" width="1.52" height="11.40" fill="#c69fde"/>
<rect x="140.71" y="198.10" width="1.52" height="11.40" fill="#7667ed"/>
<rect x="142.18" y="198.10" width="1.52" height="11.40" fill="#f0abb5"/>
<rect x="143.64" y="198.10" width="1.52" height="11.40" fill="#ead3ee"/>
<rect x="145.11" y="198.10" width="1.52" height="11.40" fill="#b463ac"/>
<rect x="146.58" y="198.10" width="1.52" height="11.40" fill="#efbfda"/>
<rect x="148.04" y="198.10" width="1.52" height="11.40" fill="#c784b5"/>
<rect x="149.51" y="198.10" width="1.52" height="11.40" fill="#7869ed"/>
<rect x="150.97" y="198.10" width="1.52" height="11.40" fill="#7e51d0"/>
<rect x="152.44" y="198.10" width="1.52" height="11.40" fill="#7162ed"/>
<rect x="153.91" y="198.10" width="1.52" height="11.40" fill="#e0c4ea"/>
<rect x="155.37" y="198.10" width="1.52" height="11.40" fill="#eea2b8"/>
<rect x="156.84" y="198.10" width="1.52" height="11.40" fill="#e2a2c5"/>
<rect x="158.30" y="198.10" width="1.52" height="11.40" fill="#df90ad"/>
<rect x="159.77" y="198.10" width="1.52" height="11.40" fill="#dcb1da"/>
<rect x="161.24" y="198.10" width="1.52" height="11.40" fill="#7869ed"/>
<rect x="162.70" y="198.10" width="1.52" height="11.40" fill="#b75390"/>
<rect x="164.17" y="198.10" width="1.52" height="11.40" fill="#dd677a"/>
<rect x="165.63" y="198.10" width="1.52" height="11.40" fill="#ba78b5"/>
<rect x="20.50" y="209.45" width="1.52" height="11.40" fill="#c188c2"/>
<rect x="21.97" y="209.45" width="1.52" height="11.40" fill="#c0b0f2"/>
<rect x="23.43" y="209.45" width="1.52" height="11.40" fill="#9561c6"/>
<rect x="24.90" y="209.45" width="1.52" height="11.40" fill="#8071ee"/>
<rect x="26.36" y="209.45" width="1.52" height="11.40" fill="#c7adea"/>
<rect x="27.83" y="209.45" width="1.52" height="11.40" fill="#8778ee"/>
<rect x="29.30" y="209.45" width="1.52" height="11.40" fill="#c0b0f2"/>
<rect x="30.76" y="209.45" width="1.52" height="11.40" fill="#d2a5d6"/>
<rect x="32.23" y="209.45" width="1.52" height="11.40" fill="#e0b8df"/>
<rect x="33.69" y="209.45" width="1.52" height="11.40" fill="#e1abd3"/>
<rect x="35.16" y="209.45" width="1.52" height="11.40" fill="#7869ed"/>
<rect x="36.63" y="209.45" width="1.52" height="11.40" fill="#caa7e2"/>
<rect x="38.09" y="209.45" width="1.52" height="11.40" fill="#a191f0"/>
<rect x="39.56" y="209.45" width="1.52" height="11.40" fill="#d8c8f3"/>
<rect x="41.02" y="209.45" width="1.52" height="11.40" fill="#b592e0"/>
<rect x="42.49" y="209.45" width="1.52" height="11.40" fill="#a389e7"/>
<rect x="43.96" y="209.45" width="1.52" height="11.40" fill="#c7b5f0"/>
<rect x="45.42" y="209.45" width="1.52" height="11.40" fill="#ba5b99"/>
<rect x="46.89" y="209.45" width="1.52" height="11.40" fill="#ebc2df"/>
<rect x="48.35" y="209.45" width="1.52" height="11.40" fill="#b794e2"/>
<rect x="49.82" y="209.45" width="1.52" height="11.40" fill="#c489c0"/>
<rect x="51.29" y="209.45" width="1.52" height="11.40" fill="#493beb"/>
<rect x="52.75" y="209.45" width="1.52" height="11.40" fill="#9788ef"/>
<rect x="54.22" y="209.45" width="1.52" height="11.40" fill="#d7b6e5"/>
<rect x="55.68" y="209.45" width="1.52" height="11.40" fill="#906edf"/>
<rect x="57.15" y="209.45" width="1.52" height="11.40" fill="#7e40b6"/>
<rect x="58.62" y="209.45" width="1.52" height="11.40" fill="#b588d9"/>
<rect x="60.08" y="209.45" width="1.52" height="11.40" fill="#ae8ee3"/>
<rect x="61.55" y="209.45" width="1.52" height="11.40" fill="#cfafe5"/>
<rect x="63.01" y="209.45" width="1.52" height="11.40" fill="#a664b3"/>
<rect x="64.48" y="209.45" width="1.52" height="11.40" fill="#c8afea"/>
<rect x="65.95" y="209.45" width="1.52" height="11.40" fill="#b585d3"/>
<rect x="67.41" y="209.45" width="1.52" height="11.40" fill="#d8c0ec"/>
<rect x="68.88" y="209.45" width="1.52" height="11.40" fill="#9c86ea"/>
<rect x="70.34" y="209.45" width="1.52" height="11.40" fill="#d3afe2"/>
<rect x="71.81" y="209.45" width="1.52" height="11.40" fill="#d5c1ef"/>
<rect x="73.28" y="209.45" width="1.52" height="11.40" fill="#c26da5"/>
<rect x="74.74" y="209.45" width="1.52" height="11.40" fill="#ce92cb"/>
<rect x="76.21" y="209.45" width="1.52" height="11.40" fill="#eea5b2"/>
<rect x="77.67" y="209.45" width="1.52" height="11.40" fill="#8a74e9"/>
<rect x="79.14" y="209.45" width="1.52" height="11.40" fill="#df95ba"/>
<rect x="80.61" y="209.45" width="1.52" height="11.40" fill="#ddbfe8"/>
<rect x="82.07" y="209.45" width="1.52" height="11.40" fill="#956cd7"/>
<rect x="83.54" y="209.45" width="1.52" height="11.40" fill="#7d6dee"/>
<rect x="85.00" y="209.45" width="1.52" height="11.40" fill="#df9ec7"/>
<rect x="86.47" y="209.45" width="1.52" height="11.40" fill="#c5a0e0"/>
<rect x="87.94" y="209.45" width="1.52" height="11.40" fill="#7768ed"/>
<rect x="89.40" y="209.45" width="1.52" height="11.40" fill="#b699e5"/>
<rect x="90.87" y="209.45" width="1.52" height="11.40" fill="#9674e0"/>
<rect x="92.33" y="209.45" width="1.52" height="11.40" fill="#7162ed"/>
<rect x="93.80" y="209.45" width="1.52" height="11.40" fill="#d585ab"/>
<rect x="95.27" y="209.45" width="1.52" height="11.40" fill="#a68de8"/>
<rect x="96.73" y="209.45" width="1.52" height="11.40" fill="#6e5fed"/>
<rect x="98.20" y="209.45" width="1.52" height="11.40" fill="#9d8def"/>
<rect x="99.66" y="209.45" width="1.52" height="11.40" fill="#8160df"/>
<rect x="101.13" y="209.45" width="1.52" height="11.40" fill="#8847b2"/>
<rect x="102.60" y="209.45" width="1.52" height="11.40" fill="#b578bd"/>
<rect x="104.06" y="209.45" width="1.52" height="11.40" fill="#cb71a1"/>
<rect x="105.53" y="209.45" width="1.52" height="11.40" fill="#cc5d82"/>
<rect x="106.99" y="209.45" width="1.52" height="11.40" fill="#c681b3"/>
<rect x="108.46" y="209.45" width="1.52" height="11.40" fill="#dfaed8"/>
<rect x="109.93" y="209.45" width="1.52" height="11.40" fill="#cf8cbb"/>
<rect x="111.39" y="209.45" width="1.52" height="11.40" fill="#e48399"/>
<rect x="112.86" y="209.45" width="1.52" height="11.40" fill="#ee5555"/>
<rect x="114.32" y="209.45" width="1.52" height="11.40" fill="#d6a2d0"/>
<rect x="115.79" y="209.45" width="1.52" height="11.40" fill="#eb9eaf"/>
<rect x="117.26" y="209.45" width="1.52" height="11.40" fill="#b892de"/>
<rect x="118.72" y="209.45" width="1.52" height="11.40" fill="#ee5d60"/>
<rect x="120.19" y="209.45" width="1.52" height="11.40" fill="#d4769c"/>
<rect x="121.65" y="209.45" width="1.52" height="11.40" fill="#d7617a"/>
<rect x="123.12" y="209.45" width="1.52" height="11.40" fill="#e27484"/>
<rect x="124.59" y="209.45" width="1.52" height="11.40" fill="#d1bcee"/>
<rect x="126.05" y="209.45" width="1.52" height="11.40" fill="#ef8493"/>
<rect x="127.52" y="209.45" width="1.52" height="11.40" fill="#e58ca5"/>
<rect x="128.98" y="209.45" width="1.52" height="11.40" fill="#ddb5df"/>
<rect x="130.45" y="209.45" width="1.52" height="11.40" fill="#e4a5cb"/>
<rect x="131.92" y="209.45" width="1.52" height="11.40" fill="#a967b3"/>
<rect x="133.38" y="209.45" width="1.52" height="11.40" fill="#c07ec1"/>
<rect x="134.85" y="209.45" width="1.52" height="11.40" fill="#f0a8b2"/>
<rect x="136.31" y="209.45" width="1.52" height="11.40" fill="#ef7a7c"/>
<rect x="137.78" y="209.45" width="1.52" height="11.40" fill="#d079a6"/>
<rect x="139.25" y="209.45" width="1.52" height="11.40" fill="#f09aa9"/>
<rect x="140.71" y="209.45" width="1.52" height="11.40" fill="#efb2ce"/>
<rect x="142.18" y="209.45" width="1.52" height="11.40" fill="#ef96a5"/>
<rect x="143.64" y="209.45" width="1.52" height="11.40" fill="#f0a4b0"/>
<rect x="145.11" y="209.45" width="1.52" height="11.40" fill="#e8a7c6"/>
<rect x="146.58" y="209.45" width="1.52" height="11.40" fill="#ef8d9f"/>
<rect x="148.04" y="209.45" width="1.52" height="11.40" fill="#e58499"/>
<rect x="149.51" y="209.45" width="1.52" height="11.40" fill="#cd77a6"/>
<rect x="150.97" y="209.45" width="1.52" height="11.40" fill="#ca87b5"/>
<rect x="152.44" y="209.45" width="1.52" height="11.40" fill="#9e8ff0"/>
<rect x="153.91" y="209.45" width="1.52" height="11.40" fill="#b45090"/>
<rect x="155.37" y="209.45" width="1.52" height="11.40" fill="#6d5eed"/>
<rect x="156.84" y="209.45" width="1.52" height="11.40" fill="#ca94ce"/>
<rect x="158.30" y="209.45" width="1.52" height="11.40" fill="#be8fd2"/>
<rect x="159.77" y="209.45" width="1.52" height="11.40" fill="#d4b4e6"/>
<rect x="161.24" y="209.45" width="1.52" height="11.40" fill="#8475ee"/>
<rect x="162.70" y="209.45" width="1.52" height="11.40" fill="#e286a0"/>
<rect x="164.17" y="209.45" width="1.52" height="11.40" fill="#e1b5dc"/>
<rect x="165.63" y="209.45" width="1.52" height="11.40" fill="#ccbcf2"/>
<rect x="20.50" y="220.80" width="1.52" height="11.40" fill="#baaaf1"/>
<rect x="21.97" y="220.80" width="1.52" height="11.40" fill="#b198e8"/>
<rect x="23.43" y="220.80" width="1.52" height="11.40" fill="#8172ee"/>
<rect x="24.90" y="220.80" width="1.52" height="11.40" fill="#bd7ab5"/>
<rect x="26.36" y="220.80" width="1.52" height="11.40" fill="#bfadf0"/>
<rect x="27.83" y="220.80" width="1.52" height="11.40" fill="#8773ea"/>
<rect x="29.30" y="220.80" width="1.52" height="11.40" fill="#7c69e9"/>
<rect x="30.76" y="220.80" width="1.52" height="11.40" fill="#dcbee8"/>
<rect x="32.23" y="220.80" width="1.52" height="11.40" fill="#b99ce7"/>
<rect x="33.69" y="220.80" width="1.52" height="11.40" fill="#e2c4e8"/>
<rect x="35.16" y="220.80" width="1.52" height="11.40" fill="#6557ec"/>
<rect x="36.63" y="220.80" width="1.52" height="11.40" fill="#897aef"/>
<rect x="38.09" y="220.80" width="1.52" height="11.40" fill="#a293f0"/>
<rect x="39.56" y="220.80" width="1.52" height="11.40" fill="#8241b1"/>
<rect x="41.02" y="220.80" width="1.52" height="11.40" fill="#d186b4"/>
<rect x="42.49" y="220.80" width="1.52" height="11.40" fill="#c1b1f2"/>
<rect x="43.96" y="220.80" width="1.52" height="11.40" fill="#d49dcc"/>
<rect x="45.42" y="220.80" width="1.52" height="11.40" fill="#6859ed"/>
<rect x="46.89" y="220.80" width="1.52" height="11.40" fill="#d29fcd"/>
<rect x="48.35" y="220.80" width="1.52" height="11.40" fill="#7c6dee"/>
<rect x="49.82" y="220.80" width="1.52" height="11.40" fill="#9384ef"/>
<rect x="51.29" y="220.80" width="1.52" height="11.40" fill="#7061ed"/>
<rect x="52.75" y="220.80" width="1.52" height="11.40" fill="#a081e3"/>
<rect x="54.22" y="220.80" width="1.52" height="11.40" fill="#9d8cee"/>
<rect x="55.68" y="220.80" width="1.52" height="11.40" fill="#8071ee"/>
<rect x="57.15" y="220.80" width="1.52" height="11.40" fill="#9a67c8"/>
<rect x="58.62" y="220.80" width="1.52" height="11.40" fill="#b694e2"/>
<rect x="60.08" y="220.80" width="1.52" height="11.40" fill="#b566aa"/>
<rect x="61.55" y="220.80" width="1.52" height="11.40" fill="#d3b4e6"/>
<rect x="63.01" y="220.80" width="1.52" height="11.40" fill="#c795ce"/>
<rect x="64.48" y="220.80" width="1.52" height="11.40" fill="#8b7bef"/>
<rect x="65.95" y="220.80" width="1.52" height="11.40" fill="#b590df"/>
<rect x="67.41" y="220.80" width="1.52" height="11.40" fill="#ac84da"/>
<rect x="68.88" y="220.80" width="1.52" height="11.40" fill="#d0baee"/>
<rect x="70.34" y="220.80" width="1.52" height="11.40" fill="#ef92a7"/>
<rect x="71.81" y="220.80" width="1.52" height="11.40" fill="#ee7886"/>
<rect x="73.28" y="220.80" width="1.52" height="11.40" fill="#d6b0e0"/>
<rect x="74.74" y="220.80" width="1.52" height="11.40" fill="#7263ed"/>
<rect x="76.21" y="220.80" width="1.52" height="11.40" fill="#f0bccf"/>
<rect x="77.67" y="220.80" width="1.52" height="11.40" fill="#7f66e5"/>
<rect x="79.14" y="220.80" width="1.52" height="11.40" fill="#5749ec"/>
<rect x="80.61" y="220.80" width="1.52" height="11.40" fill="#e993a7"/>
<rect x="82.07" y="220.80" width="1.52" height="11.40" fill="#e4badb"/>
<rect x="83.54" y="220.80" width="1.52" height="11.40" fill="#d9c4ef"/>
<rect x="85.00" y="220.80" width="1.52" height="11.40" fill="#e07284"/>
<rect x="86.47" y="220.80" width="1.52" height="11.40" fill="#bd7fbc"/>
<rect x="87.94" y="220.80" width="1.52" height="11.40" fill="#8b5aca"/>
<rect x="89.40" y="220.80" width="1.52" height="11.40" fill="#dc8dad"/>
<rect x="90.87" y="220.80" width="1.52" height="11.40" fill="#9b74db"/>
<rect x="92.33" y="220.80" width="1.52" height="11.40" fill="#9664ca"/>
<rect x="93.80" y="220.80" width="1.52" height="11.40" fill="#c47db7"/>
<rect x="95.27" y="220.80" width="1.52" height="11.40" fill="#e18faa"/>
<rect x="96.73" y="220.80" width="1.52" height="11.40" fill="#594aec"/>
<rect x="98.20" y="220.80" width="1.52" height="11.40" fill="#c171aa"/>
<rect x="99.66" y="220.80" width="1.52" height="11.40" fill="#8d7def"/>
<rect x="101.13" y="220.80" width="1.52" height="11.40" fill="#b56cb3"/>
<rect x="102.60" y="220.80" width="1.52" height="11.40" fill="#8d6de1"/>
<rect x="104.06" y="220.80" width="1.52" height="11.40" fill="#aa68b3"/>
<rect x="105.53" y="220.80" width="1.52" height="11.40" fill="#eca9bb"/>
<rect x="106.99" y="220.80" width="1.52" height="11.40" fill="#dd7993"/>
<rect x="108.46" y="220.80" width="1.52" height="11.40" fill="#c280b5"/>
<rect x="109.93" y="220.80" width="1.52" height="11.40" fill="#cb6691"/>
<rect x="111.39" y="220.80" width="1.52" height="11.40" fill="#b461a9"/>
<rect x="112.86" y="220.80" width="1.52" height="11.40" fill="#ce9fd9"/>
<rect x="114.32" y="220.80" width="1.52" height="11.40" fill="#ef838d"/>
<rect x="115.79" y="220.80" width="1.52" height="11.40" fill="#b3a3f1"/>
<rect x="117.26" y="220.80" width="1.52" height="11.40" fill="#d099c8"/>
<rect x="118.72" y="220.80" width="1.52" height="11.40" fill="#ca5579"/>
<rect x="120.19" y="220.80" width="1.52" height="11.40" fill="#ee7685"/>
<rect x="121.65" y="220.80" width="1.52" height="11.40" fill="#b47fd0"/>
<rect x="123.12" y="220.80" width="1.52" height="11.40" fill="#aa68b3"/>
<rect x="124.59" y="220.80" width="1.52" height="11.40" fill="#ee8498"/>
<rect x="126.05" y="220.80" width="1.52" height="11.40" fill="#ee6e76"/>
<rect x="127.52" y="220.80" width="1.52" height="11.40" fill="#ef8c9c"/>
<rect x="128.98" y="220.80" width="1.52" height="11.40" fill="#ee7d8d"/>
<rect x="130.45" y="220.80" width="1.52" height="11.40" fill="#ee5c5f"/>
<rect x="131.92" y="220.80" width="1.52" height="11.40" fill="#b272b7"/>
<rect x="133.38" y="220.80" width="1.52" height="11.40" fill="#cfa1d5"/>
<rect x="134.85" y="220.80" width="1.52" height="11.40" fill="#ee707c"/>
<rect x="136.31" y="220.80" width="1.52" height="11.40" fill="#eeb8cf"/>
<rect x="137.78" y="220.80" width="1.52" height="11.40" fill="#ef94a3"/>
<rect x="139.25" y="220.80" width="1.52" height="11.40" fill="#c879b1"/>
<rect x="140.71" y="220.80" width="1.52" height="11.40" fill="#cbb7ef"/>
<rect x="142.18" y="220.80" width="1.52" height="11.40" fill="#ef98a7"/>
<rect x="143.64" y="220.80" width="1.52" height="11.40" fill="#8172ee"/>
<rect x="145.11" y="220.80" width="1.52" height="11.40" fill="#ef7a84"/>
<rect x="146.58" y="220.80" width="1.52" height="11.40" fill="#ef99a7"/>
<rect x="148.04" y="220.80" width="1.52" height="11.40" fill="#ef7d83"/>
<rect x="149.51" y="220.80" width="1.52" height="11.40" fill="#7a58dd"/>
<rect x="150.97" y="220.80" width="1.52" height="11.40" fill="#f0b5c7"/>
<rect x="152.44" y="220.80" width="1.52" height="11.40" fill="#c885b5"/>
<rect x="153.91" y="220.80" width="1.52" height="11.40" fill="#ef94aa"/>
<rect x="155.37" y="220.80" width="1.52" height="11.40" fill="#c17eb5"/>
<rect x="156.84" y="220.80" width="1.52" height="11.40" fill="#dabfea"/>
<rect x="158.30" y="220.80" width="1.52" height="11.40" fill="#8261df"/>
<rect x="159.77" y="220.80" width="1.52" height="11.40" fill="#a577d0"/>
<rect x="161.24" y="220.80" width="1.52" height="11.40" fill="#9a8af0"/>
<rect x="162.70" y="220.80" width="1.52" height="11.40" fill="#da697f"/>
<rect x="164.17" y="220.80" width="1.52" height="11.40" fill="#ee89a1"/>
<rect x="165.63" y="220.80" width="1.52" height="11.40" fill="#e8a2c1"/>
<rect x="20.50" y="232.15" width="1.52" height="11.40" fill="#e6cfee"/>
<rect x="21.97" y="232.15" width="1.52" height="11.40" fill="#d789ad"/>
<rect x="23.43" y="232.15" width="1.52" height="11.40" fill="#ee5656"/>
<rect x="24.90" y="232.15" width="1.52" height="11.40" fill="#c37bbc"/>
<rect x="26.36" y="232.15" width="1.52" height="11.40" fill="#ee7482"/>
<rect x="27.83" y="232.15" width="1.52" height="11.40" fill="#8374ee"/>
<rect x="29.30" y="232.15" width="1.52" height="11.40" fill="#c5b5f1"/>
<rect x="30.76" y="232.15" width="1.52" height="11.40" fill="#e6c9e9"/>
<rect x="32.23" y="232.15" width="1.52" height="11.40" fill="#d3acdf"/>
<rect x="33.69" y="232.15" width="1.52" height="11.40" fill="#ef7173"/>
<rect x="35.16" y="232.15" width="1.52" height="11.40" fill="#f1cee5"/>
<rect x="36.63" y="232.15" width="1.52" height="11.40" fill="#d686b1"/>
<rect x="38.09" y="232.15" width="1.52" height="11.40" fill="#ca5f88"/>
<rect x="39.56" y="232.15" width="1.52" height="11.40" fill="#ee646b"/>
<rect x="41.02" y="232.15" width="1.52" height="11.40" fill="#a898f0"/>
<rect x="42.49" y="232.15" width="1.52" height="11.40" fill="#c58bcb"/>
<rect x="43.96" y="232.15" width="1.52" height="11.40" fill="#b43f77"/>
<rect x="45.42" y="232.15" width="1.52" height="11.40" fill="#eabcd5"/>
<rect x="46.89" y="232.15" width="1.52" height="11.40" fill="#efa6c5"/>
<rect x="48.35" y="232.15" width="1.52" height="11.40" fill="#c7aeeb"/>
<rect x="49.82" y="232.15" width="1.52" height="11.40" fill="#c39fe1"/>
<rect x="51.29" y="232.15" width="1.52" height="11.40" fill="#ae9def"/>
<rect x="52.75" y="232.15" width="1.52" height="11.40" fill="#dfa9c9"/>
<rect x="54.22" y="232.15" width="1.52" height="11.40" fill="#edc9e4"/>
<rect x="55.68" y="232.15" width="1.52" height="11.40" fill="#e3cff0"/>
<rect x="57.15" y="232.15" width="1.52" height="11.40" fill="#c59ddc"/>
<rect x="58.62" y="232.15" width="1.52" height="11.40" fill="#dcc9f0"/>
<rect x="60.08" y="232.15" width="1.52" height="11.40" fill="#ddb1d8"/>
<rect x="61.55" y="232.15" width="1.52" height="11.40" fill="#bb93dc"/>
<rect x="63.01" y="232.15" width="1.52" height="11.40" fill="#dc99c0"/>
<rect x="64.48" y="232.15" width="1.52" height="11.40" fill="#b086d9"/>
<rect x="65.95" y="232.15" width="1.52" height="11.40" fill="#976bd4"/>
<rect x="67.41" y="232.15" width="1.52" height="11.40" fill="#d078a5"/>
<rect x="68.88" y="232.15" width="1.52" height="11.40" fill="#dab5e1"/>
<rect x="70.34" y="232.15" width="1.52" height="11.40" fill="#d67ca2"/>
<rect x="71.81" y="232.15" width="1.52" height="11.40" fill="#ebb7d2"/>
<rect x="73.28" y="232.15" width="1.52" height="11.40" fill="#edb7d5"/>
<rect x="74.74" y="232.15" width="1.52" height="11.40" fill="#f0b5cc"/>
<rect x="76.21" y="232.15" width="1.52" height="11.40" fill="#b589d9"/>
<rect x="77.67" y="232.15" width="1.52" height="11.40" fill="#e6b6da"/>
<rect x="79.14" y="232.15" width="1.52" height="11.40" fill="#ee5e62"/>
<rect x="80.61" y="232.15" width="1.52" height="11.40" fill="#d3b9ea"/>
<rect x="82.07" y="232.15" width="1.52" height="11.40" fill="#f0c4dd"/>
<rect x="83.54" y="232.15" width="1.52" height="11.40" fill="#f0bfd9"/>
<rect x="85.00" y="232.15" width="1.52" height="11.40" fill="#ee6a6f"/>
<rect x="86.47" y="232.15" width="1.52" height="11.40" fill="#cab0ea"/>
<rect x="87.94" y="232.15" width="1.52" height="11.40" fill="#c678b3"/>
<rect x="89.40" y="232.15" width="1.52" height="11.40" fill="#ae7fd0"/>
<rect x="90.87" y="232.15" width="1.52" height="11.40" fill="#d1a1d8"/>
<rect x="92.33" y="232.15" width="1.52" height="11.40" fill="#c29ade"/>
<rect x="93.80" y="232.15" width="1.52" height="11.40" fill="#f0b3c7"/>
<rect x="95.27" y="232.15" width="1.52" height="11.40" fill="#9273e2"/>
<rect x="96.73" y="232.15" width="1.52" height="11.40" fill="#b575c4"/>
<rect x="98.20" y="232.15" width="1.52" height="11.40" fill="#9a58b3"/>
<rect x="99.66" y="232.15" width="1.52" height="11.40" fill="#d67a9f"/>
<rect x="101.13" y="232.15" width="1.52" height="11.40" fill="#b580c8"/>
<rect x="102.60" y="232.15" width="1.52" height="11.40" fill="#e3bde1"/>
<rect x="104.06" y="232.15" width="1.52" height="11.40" fill="#7c6dee"/>
<rect x="105.53" y="232.15" width="1.52" height="11.40" fill="#b58bdb"/>
<rect x="106.99" y="232.15" width="1.52" height="11.40" fill="#bda0e6"/>
<rect x="108.46" y="232.15" width="1.52" height="11.40" fill="#bb78b5"/>
<rect x="109.93" y="232.15" width="1.52" height="11.40" fill="#b175bd"/>
<rect x="111.39" y="232.15" width="1.52" height="11.40" fill="#a17adc"/>
<rect x="112.86" y="232.15" width="1.52" height="11.40" fill="#ebd8f1"/>
<rect x="114.32" y="232.15" width="1.52" height="11.40" fill="#dba6ca"/>
<rect x="115.79" y="232.15" width="1.52" height="11.40" fill="#7a5be0"/>
<rect x="117.26" y="232.15" width="1.52" height="11.40" fill="#9282ef"/>
<rect x="118.72" y="232.15" width="1.52" height="11.40" fill="#a18fee"/>
<rect x="120.19" y="232.15" width="1.52" height="11.40" fill="#695aec"/>
<rect x="121.65" y="232.15" width="1.52" height="11.40" fill="#b69de9"/>
<rect x="123.12" y="232.15" width="1.52" height="11.40" fill="#9871db"/>
<rect x="124.59" y="232.15" width="1.52" height="11.40" fill="#f0a3af"/>
<rect x="126.05" y="232.15" width="1.52" height="11.40" fill="#ddadd8"/>
<rect x="127.52" y="232.15" width="1.52" height="11.40" fill="#e4ccec"/>
<rect x="128.98" y="232.15" width="1.52" height="11.40" fill="#bc98e0"/>
<rect x="130.45" y="232.15" width="1.52" height="11.40" fill="#dca5ce"/>
<rect x="131.92" y="232.15" width="1.52" height="11.40" fill="#c489c1"/>
<rect x="133.38" y="232.15" width="1.52" height="11.40" fill="#6759ec"/>
<rect x="134.85" y="232.15" width="1.52" height="11.40" fill="#b693e1"/>
<rect x="136.31" y="232.15" width="1.52" height="11.40" fill="#b8a0ea"/>
<rect x="137.78" y="232.15" width="1.52" height="11.40" fill="#d49dd3"/>
<rect x="139.25" y="232.15" width="1.52" height="11.40" fill="#b4599e"/>
<rect x="140.71" y="232.15" width="1.52" height="11.40" fill="#8373ee"/>
<rect x="142.18" y="232.15" width="1.52" height="11.40" fill="#8b7cef"/>
<rect x="143.64" y="232.15" width="1.52" height="11.40" fill="#9554b2"/>
<rect x="145.11" y="232.15" width="1.52" height="11.40" fill="#e99fbb"/>
<rect x="146.58" y="232.15" width="1.52" height="11.40" fill="#dbb6e1"/>
<rect x="148.04" y="232.15" width="1.52" height="11.40" fill="#9572df"/>
<rect x="149.51" y="232.15" width="1.52" height="11.40" fill="#be7cb5"/>
<rect x="150.97" y="232.15" width="1.52" height="11.40" fill="#e3c0e4"/>
<rect x="152.44" y="232.15" width="1.52" height="11.40" fill="#8778ee"/>
<rect x="153.91" y="232.15" width="1.52" height="11.40" fill="#7a5ce1"/>
<rect x="155.37" y="232.15" width="1.52" height="11.40" fill="#5b4dec"/>
<rect x="156.84" y="232.15" width="1.52" height="11.40" fill="#5c4dec"/>
<rect x="158.30" y="232.15" width="1.52" height="11.40" fill="#8b7bef"/>
<rect x="159.77" y="232.15" width="1.52" height="11.40" fill="#7b6aeb"/>
<rect x="161.24" y="232.15" width="1.52" height="11.40" fill="#6859ed"/>
<rect x="162.70" y="232.15" width="1.52" height="11.40" fill="#8b71e6"/>
<rect x="164.17" y="232.15" width="1.52" height="11.40" fill="#a090f0"/>
<rect x="165.63" y="232.15" width="1.52" height="11.40" fill="#aa95eb"/>
<rect x="20.50" y="243.50" width="1.52" height="11.40" fill="#7768ed"/>
<rect x="21.97" y="243.50" width="1.52" height="11.40" fill="#7263ed"/>
<rect x="23.43" y="243.50" width="1.52" height="11.40" fill="#8c7cef"/>
<rect x="24.90" y="243.50" width="1.52" height="11.40" fill="#dfcff3"/>
<rect x="26.36" y="243.50" width="1.52" height="11.40" fill="#9181ef"/>
<rect x="27.83" y="243.50" width="1.52" height="11.40" fill="#6556ec"/>
<rect x="29.30" y="243.50" width="1.52" height="11.40" fill="#5d4eec"/>
<rect x="30.76" y="243.50" width="1.52" height="11.40" fill="#a191f0"/>
<rect x="32.23" y="243.50" width="1.52" height="11.40" fill="#8374ee"/>
<rect x="33.69" y="243.50" width="1.52" height="11.40" fill="#5f51ec"/>
<rect x="35.16" y="243.50" width="1.52" height="11.40" fill="#4032ea"/>
<rect x="36.63" y="243.50" width="1.52" height="11.40" fill="#7b6ced"/>
<rect x="38.09" y="243.50" width="1.52" height="11.40" fill="#7b66e8"/>
<rect x="39.56" y="243.50" width="1.52" height="11.40" fill="#8c7cef"/>
<rect x="41.02" y="243.50" width="1.52" height="11.40" fill="#5143eb"/>
<rect x="42.49" y="243.50" width="1.52" height="11.40" fill="#6253ec"/>
<rect x="43.96" y="243.50" width="1.52" height="11.40" fill="#9081ef"/>
<rect x="45.42" y="243.50" width="1.52" height="11.40" fill="#6657ec"/>
<rect x="46.89" y="243.50" width="1.52" height="11.40" fill="#e2a9c5"/>
<rect x="48.35" y="243.50" width="1.52" height="11.40" fill="#5445eb"/>
<rect x="49.82" y="243.50" width="1.52" height="11.40" fill="#b29aea"/>
<rect x="51.29" y="243.50" width="1.52" height="11.40" fill="#5d4eec"/>
<rect x="52.75" y="243.50" width="1.52" height="11.40" fill="#7e6fee"/>
<rect x="54.22" y="243.50" width="1.52" height="11.40" fill="#b9a9f1"/>
<rect x="55.68" y="243.50" width="1.52" height="11.40" fill="#4032ea"/>
<rect x="57.15" y="243.50" width="1.52" height="11.40" fill="#976fd9"/>
<rect x="58.62" y="243.50" width="1.52" height="11.40" fill="#796aed"/>
<rect x="60.08" y="243.50" width="1.52" height="11.40" fill="#d4acdf"/>
<rect x="61.55" y="243.50" width="1.52" height="11.40" fill="#7466ed"/>
<rect x="63.01" y="243.50" width="1.52" height="11.40" fill="#7364ed"/>
<rect x="64.48" y="243.50" width="1.52" height="11.40" fill="#7869ed"/>
<rect x="65.95" y="243.50" width="1.52" height="11.40" fill="#5546eb"/>
<rect x="67.41" y="243.50" width="1.52" height="11.40" fill="#a291ef"/>
<rect x="68.88" y="243.50" width="1.52" height="11.40" fill="#9484ef"/>
<rect x="70.34" y="243.50" width="1.52" height="11.40" fill="#5e50ec"/>
<rect x="71.81" y="243.50" width="1.52" height="11.40" fill="#7f70ee"/>
<rect x="73.28" y="243.50" width="1.52" height="11.40" fill="#7162ed"/>
<rect x="74.74" y="243.50" width="1.52" height="11.40" fill="#6e5fed"/>
<rect x="76.21" y="243.50" width="1.52" height="11.40" fill="#c3a7e8"/>
<rect x="77.67" y="243.50" width="1.52" height="11.40" fill="#4e40eb"/>
<rect x="79.14" y="243.50" width="1.52" height="11.40" fill="#b198e9"/>
<rect x="80.61" y="243.50" width="1.52" height="11.40" fill="#6758ec"/>
<rect x="82.07" y="243.50" width="1.52" height="11.40" fill="#b79be7"/>
<rect x="83.54" y="243.50" width="1.52" height="11.40" fill="#7a58dd"/>
<rect x="85.00" y="243.50" width="1.52" height="11.40" fill="#6d5eed"/>
<rect x="86.47" y="243.50" width="1.52" height="11.40" fill="#4e40eb"/>
<rect x="87.94" y="243.50" width="1.52" height="11.40" fill="#9680e9"/>
<rect x="89.40" y="243.50" width="1.52" height="11.40" fill="#8172ee"/>
<rect x="90.87" y="243.50" width="1.52" height="11.40" fill="#7869ee"/>
<rect x="92.33" y="243.50" width="1.52" height="11.40" fill="#9b8cef"/>
<rect x="93.80" y="243.50" width="1.52" height="11.40" fill="#a596f0"/>
<rect x="95.27" y="243.50" width="1.52" height="11.40" fill="#5c4dec"/>
<rect x="96.73" y="243.50" width="1.52" height="11.40" fill="#6b5ced"/>
<rect x="98.20" y="243.50" width="1.52" height="11.40" fill="#9e8ef0"/>
<rect x="99.66" y="243.50" width="1.52" height="11.40" fill="#baa8f0"/>
<rect x="101.13" y="243.50" width="1.52" height="11.40" fill="#7667ed"/>
<rect x="102.60" y="243.50" width="1.52" height="11.40" fill="#e0c5ea"/>
<rect x="104.06" y="243.50" width="1.52" height="11.40" fill="#ef99a8"/>
<rect x="105.53" y="243.50" width="1.52" height="11.40" fill="#ee7d8d"/>
<rect x="106.99" y="243.50" width="1.52" height="11.40" fill="#ee646a"/>
<rect x="108.46" y="243.50" width="1.52" height="11.40" fill="#ee646a"/>
<rect x="109.93" y="243.50" width="1.52" height="11.40" fill="#ee595a"/>
<rect x="111.39" y="243.50" width="1.52" height="11.40" fill="#ee5f64"/>
<rect x="112.86" y="243.50" width="1.52" height="11.40" fill="#ee6e7a"/>
<rect x="114.32" y="243.50" width="1.52" height="11.40" fill="#ef808a"/>
<rect x="115.79" y="243.50" width="1.52" height="11.40" fill="#ef8f9f"/>
<rect x="117.26" y="243.50" width="1.52" height="11.40" fill="#ef98a6"/>
<rect x="118.72" y="243.50" width="1.52" height="11.40" fill="#ee504e"/>
<rect x="120.19" y="243.50" width="1.52" height="11.40" fill="#ee8294"/>
<rect x="121.65" y="243.50" width="1.52" height="11.40" fill="#ee4d48"/>
<rect x="123.12" y="243.50" width="1.52" height="11.40" fill="#ee6166"/>
<rect x="124.59" y="243.50" width="1.52" height="11.40" fill="#ee6166"/>
<rect x="126.05" y="243.50" width="1.52" height="11.40" fill="#ee4a44"/>
<rect x="127.52" y="243.50" width="1.52" height="11.40" fill="#ee5352"/>
<rect x="128.98" y="243.50" width="1.52" height="11.40" fill="#ee463e"/>
<rect x="130.45" y="243.50" width="1.52" height="11.40" fill="#ee707a"/>
<rect x="131.92" y="243.50" width="1.52" height="11.40" fill="#ee5a5c"/>
<rect x="133.38" y="243.50" width="1.52" height="11.40" fill="#ef8894"/>
<rect x="134.85" y="243.50" width="1.52" height="11.40" fill="#ee7482"/>
<rect x="136.31" y="243.50" width="1.52" height="11.40" fill="#ee4f4c"/>
<rect x="137.78" y="243.50" width="1.52" height="11.40" fill="#ee5859"/>
<rect x="139.25" y="243.50" width="1.52" height="11.40" fill="#ee7686"/>
<rect x="140.71" y="243.50" width="1.52" height="11.40" fill="#efa5c3"/>
<rect x="142.18" y="243.50" width="1.52" height="11.40" fill="#ee696e"/>
<rect x="143.64" y="243.50" width="1.52" height="11.40" fill="#ee666d"/>
<rect x="145.11" y="243.50" width="1.52" height="11.40" fill="#ee727e"/>
<rect x="146.58" y="243.50" width="1.52" height="11.40" fill="#ef747d"/>
<rect x="148.04" y="243.50" width="1.52" height="11.40" fill="#ee6b76"/>
<rect x="149.51" y="243.50" width="1.52" height="11.40" fill="#ef8793"/>
<rect x="150.97" y="243.50" width="1.52" height="11.40" fill="#ee5656"/>
<rect x="152.44" y="243.50" width="1.52" height="11.40" fill="#ee6870"/>
<rect x="153.91" y="243.50" width="1.52" height="11.40" fill="#ee463e"/>
<rect x="155.37" y="243.50" width="1.52" height="11.40" fill="#efa4c1"/>
<rect x="156.84" y="243.50" width="1.52" height="11.40" fill="#efa6c6"/>
<rect x="158.30" y="243.50" width="1.52" height="11.40" fill="#ef7577"/>
<rect x="159.77" y="243.50" width="1.52" height="11.40" fill="#ef8e9d"/>
<rect x="161.24" y="243.50" width="1.52" height="11.40" fill="#ecb7ce"/>
<rect x="162.70" y="243.50" width="1.52" height="11.40" fill="#ee666b"/>
<rect x="164.17" y="243.50" width="1.52" height="11.40" fill="#ee595a"/>
<rect x="165.63" y="243.50" width="1.52" height="11.40" fill="#ef7779"/>
<rect x="20.50" y="254.85" width="1.52" height="11.40" fill="#a394f0"/>
<rect x="21.97" y="254.85" width="1.52" height="11.40" fill="#e2a1c8"/>
<rect x="23.43" y="254.85" width="1.52" height="11.40" fill="#f1b2be"/>
<rect x="24.90" y="254.85" width="1.52" height="11.40" fill="#e6bddf"/>
<rect x="26.36" y="254.85" width="1.52" height="11.40" fill="#c296d6"/>
<rect x="27.83" y="254.85" width="1.52" height="11.40" fill="#9c8cf0"/>
<rect x="29.30" y="254.85" width="1.52" height="11.40" fill="#aa7ed5"/>
<rect x="30.76" y="254.85" width="1.52" height="11.40" fill="#da9dbe"/>
<rect x="32.23" y="254.85" width="1.52" height="11.40" fill="#c173b2"/>
<rect x="33.69" y="254.85" width="1.52" height="11.40" fill="#c67caf"/>
<rect x="35.16" y="254.85" width="1.52" height="11.40" fill="#ca9edb"/>
<rect x="36.63" y="254.85" width="1.52" height="11.40" fill="#9e80e3"/>
<rect x="38.09" y="254.85" width="1.52" height="11.40" fill="#d5bdec"/>
<rect x="39.56" y="254.85" width="1.52" height="11.40" fill="#f0a9bd"/>
<rect x="41.02" y="254.85" width="1.52" height="11.40" fill="#e2b1d9"/>
<rect x="42.49" y="254.85" width="1.52" height="11.40" fill="#b476c7"/>
<rect x="43.96" y="254.85" width="1.52" height="11.40" fill="#dfc4ea"/>
<rect x="45.42" y="254.85" width="1.52" height="11.40" fill="#f0c2db"/>
<rect x="46.89" y="254.85" width="1.52" height="11.40" fill="#ee504d"/>
<rect x="48.35" y="254.85" width="1.52" height="11.40" fill="#edc1db"/>
<rect x="49.82" y="254.85" width="1.52" height="11.40" fill="#d9c9f3"/>
<rect x="51.29" y="254.85" width="1.52" height="11.40" fill="#b191e4"/>
<rect x="52.75" y="254.85" width="1.52" height="11.40" fill="#6d5eed"/>
<rect x="54.22" y="254.85" width="1.52" height="11.40" fill="#e09ec7"/>
<rect x="55.68" y="254.85" width="1.52" height="11.40" fill="#c296da"/>
<rect x="57.15" y="254.85" width="1.52" height="11.40" fill="#c380b5"/>
<rect x="58.62" y="254.85" width="1.52" height="11.40" fill="#b4579a"/>
<rect x="60.08" y="254.85" width="1.52" height="11.40" fill="#cc5779"/>
<rect x="61.55" y="254.85" width="1.52" height="11.40" fill="#dcb3dd"/>
<rect x="63.01" y="254.85" width="1.52" height="11.40" fill="#e9b4cc"/>
<rect x="64.48" y="254.85" width="1.52" height="11.40" fill="#b47dce"/>
<rect x="65.95" y="254.85" width="1.52" height="11.40" fill="#a492ee"/>
<rect x="67.41" y="254.85" width="1.52" height="11.40" fill="#de9bb6"/>
<rect x="68.88" y="254.85" width="1.52" height="11.40" fill="#9f84e6"/>
<rect x="70.34" y="254.85" width="1.52" height="11.40" fill="#d68eb8"/>
<rect x="71.81" y="254.85" width="1.52" height="11.40" fill="#d0b4e9"/>
<rect x="73.28" y="254.85" width="1.52" height="11.40" fill="#b4579a"/>
<rect x="74.74" y="254.85" width="1.52" height="11.40" fill="#b9a6ee"/>
<rect x="76.21" y="254.85" width="1.52" height="11.40" fill="#e4a1b7"/>
<rect x="77.67" y="254.85" width="1.52" height="11.40" fill="#7a4ed1"/>
<rect x="79.14" y="254.85" width="1.52" height="11.40" fill="#cb89b6"/>
<rect x="80.61" y="254.85" width="1.52" height="11.40" fill="#e5aed1"/>
<rect x="82.07" y="254.85" width="1.52" height="11.40" fill="#ab92e9"/>
<rect x="83.54" y="254.85" width="1.52" height="11.40" fill="#ebbed8"/>
<rect x="85.00" y="254.85" width="1.52" height="11.40" fill="#e5abc4"/>
<rect x="86.47" y="254.85" width="1.52" height="11.40" fill="#d6a3d6"/>
<rect x="87.94" y="254.85" width="1.52" height="11.40" fill="#ef797e"/>
<rect x="89.40" y="254.85" width="1.52" height="11.40" fill="#7a39b1"/>
<rect x="90.87" y="254.85" width="1.52" height="11.40" fill="#cdbdf2"/>
<rect x="92.33" y="254.85" width="1.52" height="11.40" fill="#b776b7"/>
<rect x="93.80" y="254.85" width="1.52" height="11.40" fill="#d988af"/>
<rect x="95.27" y="254.85" width="1.52" height="11.40" fill="#ae6eb7"/>
<rect x="96.73" y="254.85" width="1.52" height="11.40" fill="#b698e5"/>
<rect x="98.20" y="254.85" width="1.52" height="11.40" fill="#c482b5"/>
<rect x="99.66" y="254.85" width="1.52" height="11.40" fill="#c082bc"/>
<rect x="101.13" y="254.85" width="1.52" height="11.40" fill="#a063ba"/>
<rect x="102.60" y="254.85" width="1.52" height="11.40" fill="#ef92a3"/>
<rect x="104.06" y="254.85" width="1.52" height="11.40" fill="#b568ab"/>
<rect x="105.53" y="254.85" width="1.52" height="11.40" fill="#d0b3e8"/>
<rect x="106.99" y="254.85" width="1.52" height="11.40" fill="#c59bdc"/>
<rect x="108.46" y="254.85" width="1.52" height="11.40" fill="#ee879e"/>
<rect x="109.93" y="254.85" width="1.52" height="11.40" fill="#e598ae"/>
<rect x="111.39" y="254.85" width="1.52" height="11.40" fill="#ba7dbd"/>
<rect x="112.86" y="254.85" width="1.52" height="11.40" fill="#c4a2e3"/>
<rect x="114.32" y="254.85" width="1.52" height="11.40" fill="#f1c8e0"/>
<rect x="115.79" y="254.85" width="1.52" height="11.40" fill="#ce7daa"/>
<rect x="117.26" y="254.85" width="1.52" height="11.40" fill="#bc7ab5"/>
<rect x="118.72" y="254.85" width="1.52" height="11.40" fill="#cc97cd"/>
<rect x="120.19" y="254.85" width="1.52" height="11.40" fill="#cfabe1"/>
<rect x="121.65" y="254.85" width="1.52" height="11.40" fill="#ee7381"/>
<rect x="123.12" y="254.85" width="1.52" height="11.40" fill="#bd81cb"/>
<rect x="124.59" y="254.85" width="1.52" height="11.40" fill="#c79ad5"/>
<rect x="126.05" y="254.85" width="1.52" height="11.40" fill="#dc7792"/>
<rect x="127.52" y="254.85" width="1.52" height="11.40" fill="#b9477c"/>
<rect x="128.98" y="254.85" width="1.52" height="11.40" fill="#c88ec3"/>
<rect x="130.45" y="254.85" width="1.52" height="11.40" fill="#d095cf"/>
<rect x="131.92" y="254.85" width="1.52" height="11.40" fill="#835fdd"/>
<rect x="133.38" y="254.85" width="1.52" height="11.40" fill="#af97e9"/>
<rect x="134.85" y="254.85" width="1.52" height="11.40" fill="#a361b3"/>
<rect x="136.31" y="254.85" width="1.52" height="11.40" fill="#e9a0b1"/>
<rect x="137.78" y="254.85" width="1.52" height="11.40" fill="#ef6e72"/>
<rect x="139.25" y="254.85" width="1.52" height="11.40" fill="#eac5e3"/>
<rect x="140.71" y="254.85" width="1.52" height="11.40" fill="#dab6e3"/>
<rect x="142.18" y="254.85" width="1.52" height="11.40" fill="#ca5b81"/>
<rect x="143.64" y="254.85" width="1.52" height="11.40" fill="#e1b7de"/>
<rect x="145.11" y="254.85" width="1.52" height="11.40" fill="#a688e4"/>
<rect x="146.58" y="254.85" width="1.52" height="11.40" fill="#e4b3d9"/>
<rect x="148.04" y="254.85" width="1.52" height="11.40" fill="#ad8ae0"/>
<rect x="149.51" y="254.85" width="1.52" height="11.40" fill="#c084c0"/>
<rect x="150.97" y="254.85" width="1.52" height="11.40" fill="#dc99b6"/>
<rect x="152.44" y="254.85" width="1.52" height="11.40" fill="#c5b5f2"/>
<rect x="153.91" y="254.85" width="1.52" height="11.40" fill="#9e5fb7"/>
<rect x="155.37" y="254.85" width="1.52" height="11.40" fill="#e2caed"/>
<rect x="156.84" y="254.85" width="1.52" height="11.40" fill="#d18ab2"/>
<rect x="158.30" y="254.85" width="1.52" height="11.40" fill="#9769d0"/>
<rect x="159.77" y="254.85" width="1.52" height="11.40" fill="#cdb0e8"/>
<rect x="161.24" y="254.85" width="1.52" height="11.40" fill="#e1cdf0"/>
<rect x="162.70" y="254.85" width="1.52" height="11.40" fill="#b480c8"/>
<rect x="164.17" y="254.85" width="1.52" height="11.40" fill="#efa8c2"/>
<rect x="165.63" y="254.85" width="1.52" height="11.40" fill="#e8d2ef"/>
<rect x="20.50" y="266.20" width="1.52" height="11.40" fill="#af6eb4"/>
<rect x="21.97" y="266.20" width="1.52" height="11.40" fill="#d4c4f3"/>
<rect x="23.43" y="266.20" width="1.52" height="11.40" fill="#ce8bb6"/>
<rect x="24.90" y="266.20" width="1.52" height="11.40" fill="#a091f0"/>
<rect x="26.36" y="266.20" width="1.52" height="11.40" fill="#bb6eb3"/>
<rect x="27.83" y="266.20" width="1.52" height="11.40" fill="#856ce6"/>
<rect x="29.30" y="266.20" width="1.52" height="11.40" fill="#cd90c2"/>
<rect x="30.76" y="266.20" width="1.52" height="11.40" fill="#a393f0"/>
<rect x="32.23" y="266.20" width="1.52" height="11.40" fill="#dbbde8"/>
<rect x="33.69" y="266.20" width="1.52" height="11.40" fill="#d26382"/>
<rect x="35.16" y="266.20" width="1.52" height="11.40" fill="#baaaf1"/>
<rect x="36.63" y="266.20" width="1.52" height="11.40" fill="#efb6d2"/>
<rect x="38.09" y="266.20" width="1.52" height="11.40" fill="#b673b4"/>
<rect x="39.56" y="266.20" width="1.52" height="11.40" fill="#c493cf"/>
<rect x="41.02" y="266.20" width="1.52" height="11.40" fill="#d9bbe7"/>
<rect x="42.49" y="266.20" width="1.52" height="11.40" fill="#914fb2"/>
<rect x="43.96" y="266.20" width="1.52" height="11.40" fill="#d581ab"/>
<rect x="45.42" y="266.20" width="1.52" height="11.40" fill="#d3aadd"/>
<rect x="46.89" y="266.20" width="1.52" height="11.40" fill="#9d8eef"/>
<rect x="48.35" y="266.20" width="1.52" height="11.40" fill="#b875b4"/>
<rect x="49.82" y="266.20" width="1.52" height="11.40" fill="#f0a4b4"/>
<rect x="51.29" y="266.20" width="1.52" height="11.40" fill="#b5a5f1"/>
<rect x="52.75" y="266.20" width="1.52" height="11.40" fill="#ba84c8"/>
<rect x="54.22" y="266.20" width="1.52" height="11.40" fill="#e2afd7"/>
<rect x="55.68" y="266.20" width="1.52" height="11.40" fill="#796aed"/>
<rect x="57.15" y="266.20" width="1.52" height="11.40" fill="#796aee"/>
<rect x="58.62" y="266.20" width="1.52" height="11.40" fill="#eeb8d1"/>
<rect x="60.08" y="266.20" width="1.52" height="11.40" fill="#bb7dc9"/>
<rect x="61.55" y="266.20" width="1.52" height="11.40" fill="#ef98a9"/>
<rect x="63.01" y="266.20" width="1.52" height="11.40" fill="#eeb6c9"/>
<rect x="64.48" y="266.20" width="1.52" height="11.40" fill="#b586d0"/>
<rect x="65.95" y="266.20" width="1.52" height="11.40" fill="#a697f0"/>
<rect x="67.41" y="266.20" width="1.52" height="11.40" fill="#ef7c81"/>
<rect x="68.88" y="266.20" width="1.52" height="11.40" fill="#e6a1b9"/>
<rect x="70.34" y="266.20" width="1.52" height="11.40" fill="#d1b7ea"/>
<rect x="71.81" y="266.20" width="1.52" height="11.40" fill="#dc99b6"/>
<rect x="73.28" y="266.20" width="1.52" height="11.40" fill="#e6c5e5"/>
<rect x="74.74" y="266.20" width="1.52" height="11.40" fill="#a48be8"/>
<rect x="76.21" y="266.20" width="1.52" height="11.40" fill="#f0b3cb"/>
<rect x="77.67" y="266.20" width="1.52" height="11.40" fill="#945fc6"/>
<rect x="79.14" y="266.20" width="1.52" height="11.40" fill="#a490ec"/>
<rect x="80.61" y="266.20" width="1.52" height="11.40" fill="#d8c5f0"/>
<rect x="82.07" y="266.20" width="1.52" height="11.40" fill="#d9c5f0"/>
<rect x="83.54" y="266.20" width="1.52" height="11.40" fill="#a98ae4"/>
<rect x="85.00" y="266.20" width="1.52" height="11.40" fill="#b47bcc"/>
<rect x="86.47" y="266.20" width="1.52" height="11.40" fill="#a588e5"/>
<rect x="87.94" y="266.20" width="1.52" height="11.40" fill="#ba92dd"/>
<rect x="89.40" y="266.20" width="1.52" height="11.40" fill="#b46eb7"/>
<rect x="90.87" y="266.20" width="1.52" height="11.40" fill="#f1d1e7"/>
<rect x="92.33" y="266.20" width="1.52" height="11.40" fill="#eac2e0"/>
<rect x="93.80" y="266.20" width="1.52" height="11.40" fill="#ef96a8"/>
<rect x="95.27" y="266.20" width="1.52" height="11.40" fill="#e6c4e5"/>
<rect x="96.73" y="266.20" width="1.52" height="11.40" fill="#b590df"/>
<rect x="98.20" y="266.20" width="1.52" height="11.40" fill="#a680dd"/>
<rect x="99.66" y="266.20" width="1.52" height="11.40" fill="#f0a9b4"/>
<rect x="101.13" y="266.20" width="1.52" height="11.40" fill="#9d75da"/>
<rect x="102.60" y="266.20" width="1.52" height="11.40" fill="#dac4ef"/>
<rect x="104.06" y="266.20" width="1.52" height="11.40" fill="#f0a5b1"/>
<rect x="105.53" y="266.20" width="1.52" height="11.40" fill="#b270b4"/>
<rect x="106.99" y="266.20" width="1.52" height="11.40" fill="#ee7c8b"/>
<rect x="108.46" y="266.20" width="1.52" height="11.40" fill="#c268a1"/>
<rect x="109.93" y="266.20" width="1.52" height="11.40" fill="#efacca"/>
<rect x="111.39" y="266.20" width="1.52" height="11.40" fill="#ef91a1"/>
<rect x="112.86" y="266.20" width="1.52" height="11.40" fill="#d2afe3"/>
<rect x="114.32" y="266.20" width="1.52" height="11.40" fill="#bf7db5"/>
<rect x="115.79" y="266.20" width="1.52" height="11.40" fill="#ef8e9e"/>
<rect x="117.26" y="266.20" width="1.52" height="11.40" fill="#ba94de"/>
<rect x="118.72" y="266.20" width="1.52" height="11.40" fill="#c397da"/>
<rect x="120.19" y="266.20" width="1.52" height="11.40" fill="#a46fc6"/>
<rect x="121.65" y="266.20" width="1.52" height="11.40" fill="#bf71ac"/>
<rect x="123.12" y="266.20" width="1.52" height="11.40" fill="#8f7fef"/>
<rect x="124.59" y="266.20" width="1.52" height="11.40" fill="#c96c9e"/>
<rect x="126.05" y="266.20" width="1.52" height="11.40" fill="#ea95a8"/>
<rect x="127.52" y="266.20" width="1.52" height="11.40" fill="#b471be"/>
<rect x="128.98" y="266.20" width="1.52" height="11.40" fill="#ee4841"/>
<rect x="130.45" y="266.20" width="1.52" height="11.40" fill="#ee8398"/>
<rect x="131.92" y="266.20" width="1.52" height="11.40" fill="#b879bd"/>
<rect x="133.38" y="266.20" width="1.52" height="11.40" fill="#a15fb3"/>
<rect x="134.85" y="266.20" width="1.52" height="11.40" fill="#b099ea"/>
<rect x="136.31" y="266.20" width="1.52" height="11.40" fill="#ef98a7"/>
<rect x="137.78" y="266.20" width="1.52" height="11.40" fill="#edcae4"/>
<rect x="139.25" y="266.20" width="1.52" height="11.40" fill="#d492c6"/>
<rect x="140.71" y="266.20" width="1.52" height="11.40" fill="#ac6ab4"/>
<rect x="142.18" y="266.20" width="1.52" height="11.40" fill="#ef96a5"/>
<rect x="143.64" y="266.20" width="1.52" height="11.40" fill="#efb3d0"/>
<rect x="145.11" y="266.20" width="1.52" height="11.40" fill="#ee5757"/>
<rect x="146.58" y="266.20" width="1.52" height="11.40" fill="#d3b1e4"/>
<rect x="148.04" y="266.20" width="1.52" height="11.40" fill="#f1cae1"/>
<rect x="149.51" y="266.20" width="1.52" height="11.40" fill="#e06a7a"/>
<rect x="150.97" y="266.20" width="1.52" height="11.40" fill="#ddadd1"/>
<rect x="152.44" y="266.20" width="1.52" height="11.40" fill="#e6cfee"/>
<rect x="153.91" y="266.20" width="1.52" height="11.40" fill="#e1c8ec"/>
<rect x="155.37" y="266.20" width="1.52" height="11.40" fill="#9c8df0"/>
<rect x="156.84" y="266.20" width="1.52" height="11.40" fill="#8576ee"/>
<rect x="158.30" y="266.20" width="1.52" height="11.40" fill="#7a59de"/>
<rect x="159.77" y="266.20" width="1.52" height="11.40" fill="#b097e9"/>
<rect x="161.24" y="266.20" width="1.52" height="11.40" fill="#a481e0"/>
<rect x="162.70" y="266.20" width="1.52" height="11.40" fill="#f0bfd9"/>
<rect x="164.17" y="266.20" width="1.52" height="11.40" fill="#d4afe2"/>
<rect x="165.63" y="266.20" width="1.52" height="11.40" fill="#d1b9eb"/>
<rect x="20.50" y="277.55" width="1.52" height="11.40" fill="#d9b3e1"/>
<rect x="21.97" y="277.55" width="1.52" height="11.40" fill="#ba9be4"/>
<rect x="23.43" y="277.55" width="1.52" height="11.40" fill="#f0b9d1"/>
<rect x="24.90" y="277.55" width="1.52" height="11.40" fill="#ae9ef1"/>
<rect x="26.36" y="277.55" width="1.52" height="11.40" fill="#b43f77"/>
<rect x="27.83" y="277.55" width="1.52" height="11.40" fill="#a991e9"/>
<rect x="29.30" y="277.55" width="1.52" height="11.40" fill="#7b64e6"/>
<rect x="30.76" y="277.55" width="1.52" height="11.40" fill="#c182c0"/>
<rect x="32.23" y="277.55" width="1.52" height="11.40" fill="#9e8ef0"/>
<rect x="33.69" y="277.55" width="1.52" height="11.40" fill="#f0c8e0"/>
<rect x="35.16" y="277.55" width="1.52" height="11.40" fill="#9788ef"/>
<rect x="36.63" y="277.55" width="1.52" height="11.40" fill="#ef838c"/>
<rect x="38.09" y="277.55" width="1.52" height="11.40" fill="#786aed"/>
<rect x="39.56" y="277.55" width="1.52" height="11.40" fill="#e2afd7"/>
<rect x="41.02" y="277.55" width="1.52" height="11.40" fill="#955ec3"/>
<rect x="42.49" y="277.55" width="1.52" height="11.40" fill="#b08fe3"/>
<rect x="43.96" y="277.55" width="1.52" height="11.40" fill="#cc89c3"/>
<rect x="45.42" y="277.55" width="1.52" height="11.40" fill="#c4acea"/>
<rect x="46.89" y="277.55" width="1.52" height="11.40" fill="#e2b7de"/>
<rect x="48.35" y="277.55" width="1.52" height="11.40" fill="#c380b9"/>
<rect x="49.82" y="277.55" width="1.52" height="11.40" fill="#f0b9d4"/>
<rect x="51.29" y="277.55" width="1.52" height="11.40" fill="#ae9ff0"/>
<rect x="52.75" y="277.55" width="1.52" height="11.40" fill="#8d73e5"/>
<rect x="54.22" y="277.55" width="1.52" height="11.40" fill="#da89aa"/>
<rect x="55.68" y="277.55" width="1.52" height="11.40" fill="#8671e9"/>
<rect x="57.15" y="277.55" width="1.52" height="11.40" fill="#a191f0"/>
<rect x="58.62" y="277.55" width="1.52" height="11.40" fill="#e2d2f3"/>
<rect x="60.08" y="277.55" width="1.52" height="11.40" fill="#efa1bf"/>
<rect x="61.55" y="277.55" width="1.52" height="11.40" fill="#e190ae"/>
<rect x="63.01" y="277.55" width="1.52" height="11.40" fill="#e1a9ce"/>
<rect x="64.48" y="277.55" width="1.52" height="11.40" fill="#b98fdc"/>
<rect x="65.95" y="277.55" width="1.52" height="11.40" fill="#7061ed"/>
<rect x="67.41" y="277.55" width="1.52" height="11.40" fill="#dd88a7"/>
<rect x="68.88" y="277.55" width="1.52" height="11.40" fill="#c0a0e4"/>
<rect x="70.34" y="277.55" width="1.52" height="11.40" fill="#c193d5"/>
<rect x="71.81" y="277.55" width="1.52" height="11.40" fill="#bb96e0"/>
<rect x="73.28" y="277.55" width="1.52" height="11.40" fill="#e1d1f3"/>
<rect x="74.74" y="277.55" width="1.52" height="11.40" fill="#dabbe7"/>
<rect x="76.21" y="277.55" width="1.52" height="11.40" fill="#dda3c4"/>
<rect x="77.67" y="277.55" width="1.52" height="11.40" fill="#e0b6de"/>
<rect x="79.14" y="277.55" width="1.52" height="11.40" fill="#c2b2f2"/>
<rect x="80.61" y="277.55" width="1.52" height="11.40" fill="#d38bb5"/>
<rect x="82.07" y="277.55" width="1.52" height="11.40" fill="#c780b8"/>
<rect x="83.54" y="277.55" width="1.52" height="11.40" fill="#d39fd4"/>
<rect x="85.00" y="277.55" width="1.52" height="11.40" fill="#bb93dd"/>
<rect x="86.47" y="277.55" width="1.52" height="11.40" fill="#a989e3"/>
<rect x="87.94" y="277.55" width="1.52" height="11.40" fill="#ad9df1"/>
<rect x="89.40" y="277.55" width="1.52" height="11.40" fill="#b58ada"/>
<rect x="90.87" y="277.55" width="1.52" height="11.40" fill="#aa87e0"/>
<rect x="92.33" y="277.55" width="1.52" height="11.40" fill="#ee8496"/>
<rect x="93.80" y="277.55" width="1.52" height="11.40" fill="#eda0b1"/>
<rect x="95.27" y="277.55" width="1.52" height="11.40" fill="#cc95cd"/>
<rect x="96.73" y="277.55" width="1.52" height="11.40" fill="#b1a2f1"/>
<rect x="98.20" y="277.55" width="1.52" height="11.40" fill="#dec9ef"/>
<rect x="99.66" y="277.55" width="1.52" height="11.40" fill="#ee8394"/>
<rect x="101.13" y="277.55" width="1.52" height="11.40" fill="#b582d4"/>
<rect x="102.60" y="277.55" width="1.52" height="11.40" fill="#ef90a0"/>
<rect x="104.06" y="277.55" width="1.52" height="11.40" fill="#d6b6e6"/>
<rect x="105.53" y="277.55" width="1.52" height="11.40" fill="#9d64c0"/>
<rect x="106.99" y="277.55" width="1.52" height="11.40" fill="#ee9fbe"/>
<rect x="108.46" y="277.55" width="1.52" height="11.40" fill="#cd7aa8"/>
<rect x="109.93" y="277.55" width="1.52" height="11.40" fill="#efadc8"/>
<rect x="111.39" y="277.55" width="1.52" height="11.40" fill="#cca0d6"/>
<rect x="112.86" y="277.55" width="1.52" height="11.40" fill="#e0c3e9"/>
<rect x="114.32" y="277.55" width="1.52" height="11.40" fill="#f0cae1"/>
<rect x="115.79" y="277.55" width="1.52" height="11.40" fill="#bc83c3"/>
<rect x="117.26" y="277.55" width="1.52" height="11.40" fill="#9f8aeb"/>
<rect x="118.72" y="277.55" width="1.52" height="11.40" fill="#ef98ae"/>
<rect x="120.19" y="277.55" width="1.52" height="11.40" fill="#e99fbc"/>
<rect x="121.65" y="277.55" width="1.52" height="11.40" fill="#b573b4"/>
<rect x="123.12" y="277.55" width="1.52" height="11.40" fill="#caa6e2"/>
<rect x="124.59" y="277.55" width="1.52" height="11.40" fill="#e0a5c1"/>
<rect x="126.05" y="277.55" width="1.52" height="11.40" fill="#f0b7d3"/>
<rect x="127.52" y="277.55" width="1.52" height="11.40" fill="#d583aa"/>
<rect x="128.98" y="277.55" width="1.52" height="11.40" fill="#ae72be"/>
<rect x="130.45" y="277.55" width="1.52" height="11.40" fill="#e1b6db"/>
<rect x="131.92" y="277.55" width="1.52" height="11.40" fill="#ca91c4"/>
<rect x="133.38" y="277.55" width="1.52" height="11.40" fill="#cea4d9"/>
<rect x="134.85" y="277.55" width="1.52" height="11.40" fill="#926ad9"/>
<rect x="136.31" y="277.55" width="1.52" height="11.40" fill="#ef7d82"/>
<rect x="137.78" y="277.55" width="1.52" height="11.40" fill="#eea2b0"/>
<rect x="139.25" y="277.55" width="1.52" height="11.40" fill="#ee595a"/>
<rect x="140.71" y="277.55" width="1.52" height="11.40" fill="#8d79ea"/>
<rect x="142.18" y="277.55" width="1.52" height="11.40" fill="#caaee8"/>
<rect x="143.64" y="277.55" width="1.52" height="11.40" fill="#e7bfdf"/>
<rect x="145.11" y="277.55" width="1.52" height="11.40" fill="#b16fb4"/>
<rect x="146.58" y="277.55" width="1.52" height="11.40" fill="#d09bd1"/>
<rect x="148.04" y="277.55" width="1.52" height="11.40" fill="#f0a3af"/>
<rect x="149.51" y="277.55" width="1.52" height="11.40" fill="#f0c1db"/>
<rect x="150.97" y="277.55" width="1.52" height="11.40" fill="#e7cfed"/>
<rect x="152.44" y="277.55" width="1.52" height="11.40" fill="#ce7daa"/>
<rect x="153.91" y="277.55" width="1.52" height="11.40" fill="#a15fb3"/>
<rect x="155.37" y="277.55" width="1.52" height="11.40" fill="#c2a3e5"/>
<rect x="156.84" y="277.55" width="1.52" height="11.40" fill="#c9b3ed"/>
<rect x="158.30" y="277.55" width="1.52" height="11.40" fill="#8c6de2"/>
<rect x="159.77" y="277.55" width="1.52" height="11.40" fill="#b57eca"/>
<rect x="161.24" y="277.55" width="1.52" height="11.40" fill="#bb64a4"/>
<rect x="162.70" y="277.55" width="1.52" height="11.40" fill="#d9a1d1"/>
<rect x="164.17" y="277.55" width="1.52" height="11.40" fill="#9182ef"/>
<rect x="165.63" y="277.55" width="1.52" height="11.40" fill="#bf75ae"/>
<text x="168.2" y="182.08" font-size="1.8" fill="#4a4a4a">FAS</text>
<text x="168.2" y="193.43" font-size="1.8" fill="#4a4a4a">TNF</text>
<text x="168.2" y="204.78" font-size="1.8" fill="#4a4a4a">FADD</text>
<text x="168.2" y="216.12" font-size="1.8" fill="#4a4a4a">TLR3</text>
<text x="168.2" y="227.47" font-size="1.8" fill="#4a4a4a">MLKL</text>
<text x="168.2" y="238.82" font-size="1.8" fill="#4a4a4a">RIPK1</text>
<text x="168.2" y="250.18" font-size="1.8" fill="#4a4a4a">RIPK3</text>
<text x="168.2" y="261.52" font-size="1.8" fill="#4a4a4a">FASLG</text>
<text x="168.2" y="272.88" font-size="1.8" fill="#4a4a4a">StromalScore</text>
<text x="168.2" y="284.22" font-size="1.8" fill="#4a4a4a">ImmuneScore</text>
<text x="167.8" y="160.00" font-size="2.1" fill="#444">Fustat</text>
<text x="167.8" y="162.00" font-size="2.1" fill="#444">Age</text>
<text x="167.8" y="163.90" font-size="2.1" fill="#444">Gender</text>
<text x="167.8" y="165.90" font-size="2.1" fill="#444">Grade</text>
<text x="167.8" y="169.40" font-size="2.1" fill="#444">T</text>
<text x="167.8" y="171.10" font-size="2.1" fill="#444">N</text>
<text x="167.8" y="173.10" font-size="2.1" fill="#444">Stage</text>
<text x="167.8" y="175.10" font-size="2.1" fill="#444">Cluster</text>
<defs><linearGradient id="ck" x1="0" y1="0" x2="0" y2="1"><stop offset="0" stop-color="#d01010"/><stop offset="0.3" stop-color="#e41a1a"/><stop offset="0.42" stop-color="#f04848"/><stop offset="0.5" stop-color="#fff0f0"/><stop offset="0.55" stop-color="#6a6af0"/><stop offset="0.63" stop-color="#1414d8"/><stop offset="1" stop-color="#0808c0"/></linearGradient></defs>
<rect x="178.9" y="158.4" width="2.8" height="34.4" fill="url(#ck)"/>
<text x="183.8" y="159.30" font-size="2" fill="#666">Group</text>
<rect x="183.9" y="159.85" width="1.7" height="1.5" fill="#9cc6e2"/>
<text x="186.2" y="161.30" font-size="1.9" fill="#777">item</text>
<rect x="183.9" y="161.65" width="1.7" height="1.5" fill="#4fd0cc"/>
<text x="186.2" y="163.10" font-size="1.9" fill="#777">item</text>
<text x="183.8" y="167.10" font-size="2" fill="#666">Group</text>
<rect x="183.9" y="167.55" width="1.7" height="1.5" fill="#4fd0cc"/>
<text x="186.2" y="169.00" font-size="1.9" fill="#777">item</text>
<rect x="183.9" y="169.25" width="1.7" height="1.5" fill="#2aa090"/>
<text x="186.2" y="170.70" font-size="1.9" fill="#777">item</text>
<text x="183.8" y="173.90" font-size="2" fill="#666">Group</text>
<rect x="183.9" y="174.25" width="1.7" height="1.5" fill="#84cc6c"/>
<text x="186.2" y="175.70" font-size="1.9" fill="#777">item</text>
<rect x="183.9" y="175.95" width="1.7" height="1.5" fill="#c8d860"/>
<text x="186.2" y="177.40" font-size="1.9" fill="#777">item</text>
<rect x="183.9" y="177.65" width="1.7" height="1.5" fill="#e8d050"/>
<text x="186.2" y="179.10" font-size="1.9" fill="#777">item</text>
<rect x="183.9" y="179.35" width="1.7" height="1.5" fill="#d2c85e"/>
<text x="186.2" y="180.80" font-size="1.9" fill="#777">item</text>
<rect x="183.9" y="181.05" width="1.7" height="1.5" fill="#f0c050"/>
<text x="186.2" y="182.50" font-size="1.9" fill="#777">item</text>
<rect x="183.9" y="182.75" width="1.7" height="1.5" fill="#f4c878"/>
<text x="186.2" y="184.20" font-size="1.9" fill="#777">item</text>
<text x="183.8" y="188.70" font-size="2" fill="#666">Group</text>
<rect x="183.9" y="189.25" width="1.7" height="1.5" fill="#c4b8f0"/>
<text x="186.2" y="190.70" font-size="1.9" fill="#777">item</text>
<rect x="183.9" y="191.05" width="1.7" height="1.5" fill="#b0c8f0"/>
<text x="186.2" y="192.50" font-size="1.9" fill="#777">item</text>
<rect x="183.9" y="192.85" width="1.7" height="1.5" fill="#90d0a0"/>
<text x="186.2" y="194.30" font-size="1.9" fill="#777">item</text>
<rect x="183.9" y="194.65" width="1.7" height="1.5" fill="#9ed48a"/>
<text x="186.2" y="196.10" font-size="1.9" fill="#777">item</text>
<rect x="183.9" y="201.45" width="1.7" height="1.5" fill="#f0d040"/>
<text x="186.2" y="202.90" font-size="1.9" fill="#777">item</text>
<rect x="183.9" y="203.25" width="1.7" height="1.5" fill="#f0c050"/>
<text x="186.2" y="204.70" font-size="1.9" fill="#777">item</text>
<rect x="183.9" y="205.05" width="1.7" height="1.5" fill="#f4d070"/>
<text x="186.2" y="206.50" font-size="1.9" fill="#777">item</text>
<rect x="183.9" y="206.85" width="1.7" height="1.5" fill="#f8e090"/>
<text x="186.2" y="208.30" font-size="1.9" fill="#777">item</text>
<text x="183.8" y="213.50" font-size="2" fill="#666">Group</text>
<rect x="183.9" y="213.85" width="1.7" height="1.5" fill="#d0c8f0"/>
<text x="186.2" y="215.30" font-size="1.9" fill="#777">item</text>
<rect x="183.9" y="215.65" width="1.7" height="1.5" fill="#d8d0ea"/>
<text x="186.2" y="217.10" font-size="1.9" fill="#777">item</text>
<rect x="183.9" y="217.45" width="1.7" height="1.5" fill="#e0d8f0"/>
<text x="186.2" y="218.90" font-size="1.9" fill="#777">item</text>
<text x="183.8" y="222.70" font-size="2" fill="#666">Group</text>
<rect x="183.9" y="223.05" width="1.7" height="1.5" fill="#f8a0a0"/>
<text x="186.2" y="224.50" font-size="1.9" fill="#777">item</text>
<rect x="183.9" y="224.85" width="1.7" height="1.5" fill="#f6a2b4"/>
<text x="186.2" y="226.30" font-size="1.9" fill="#777">item</text>
<rect x="183.9" y="226.65" width="1.7" height="1.5" fill="#a0d0a0"/>
<text x="186.2" y="228.10" font-size="1.9" fill="#777">item</text>
<rect x="184.6" y="289" width="1.8" height="1.8" fill="#4aa0e0"/>
<text x="223.9" y="161.2" font-size="8.1" font-weight="bold" fill="#000">D</text>
<text x="308" y="165.3" font-size="3.7" fill="#222">N-Cluster</text>
<line x1="327.0" y1="161.4" x2="327.0" y2="166.6" stroke="#6680d2" stroke-width="0.4"/>
<rect x="325.4" y="162.6" width="3.2" height="2.9" fill="#fff" stroke="#6680d2" stroke-width="0.45"/>
<line x1="325.4" y1="164.0" x2="328.6" y2="164.0" stroke="#4560bc" stroke-width="0.5"/>
<text x="330.9" y="165.4" font-size="3.6" fill="#222">A</text>
<line x1="338.0" y1="161.4" x2="338.0" y2="166.6" stroke="#f5c47e" stroke-width="0.4"/>
<rect x="336.4" y="162.6" width="3.2" height="2.9" fill="#fff" stroke="#f5c47e" stroke-width="0.45"/>
<line x1="336.4" y1="164.0" x2="339.6" y2="164.0" stroke="#eeaa50" stroke-width="0.5"/>
<text x="341.9" y="165.4" font-size="3.6" fill="#222">B</text>
<line x1="241.7" y1="171.5" x2="241.7" y2="262" stroke="#8a8a8a" stroke-width="0.55"/>
<line x1="241.7" y1="262.2" x2="398.5" y2="262.2" stroke="#777" stroke-width="0.6"/>
<line x1="240.6" y1="176.4" x2="241.7" y2="176.4" stroke="#666" stroke-width="0.45"/>
<text x="240.3" y="177.70" font-size="3.7" text-anchor="end" fill="#333" stroke="#333" stroke-width="0.08">7.5</text>
<line x1="240.6" y1="194.4" x2="241.7" y2="194.4" stroke="#666" stroke-width="0.45"/>
<text x="240.3" y="195.70" font-size="3.7" text-anchor="end" fill="#333" stroke="#333" stroke-width="0.08">5.0</text>
<line x1="240.6" y1="212.3" x2="241.7" y2="212.3" stroke="#666" stroke-width="0.45"/>
<text x="240.3" y="213.60" font-size="3.7" text-anchor="end" fill="#333" stroke="#333" stroke-width="0.08">2.5</text>
<line x1="240.6" y1="230.3" x2="241.7" y2="230.3" stroke="#666" stroke-width="0.45"/>
<text x="240.3" y="231.60" font-size="3.7" text-anchor="end" fill="#333" stroke="#333" stroke-width="0.08">0.0</text>
<line x1="240.6" y1="248.2" x2="241.7" y2="248.2" stroke="#666" stroke-width="0.45"/>
<text x="240.3" y="249.50" font-size="3.7" text-anchor="end" fill="#333" stroke="#333" stroke-width="0.08">-2.5</text>
<text transform="translate(231.5,216.6) rotate(-90)" font-size="3.5" text-anchor="middle" fill="#1a1a1a" stroke="#1a1a1a" stroke-width="0.08">expression</text>
<line x1="247.40" y1="214" x2="247.40" y2="227.2" stroke="#6680d2" stroke-width="0.5"/>
<line x1="247.40" y1="235.8" x2="247.40" y2="247.8" stroke="#6680d2" stroke-width="0.5"/>
<rect x="244.70" y="227.2" width="5.4" height="8.60" fill="#fff" stroke="#6680d2" stroke-width="0.45"/>
<line x1="244.70" y1="231.7" x2="250.10" y2="231.7" stroke="#4560bc" stroke-width="0.65"/>
<circle cx="247.40" cy="205.00" r="0.7" fill="#3452a8"/>
<circle cx="247.40" cy="206.80" r="0.7" fill="#3452a8"/>
<circle cx="247.40" cy="208.60" r="0.7" fill="#3452a8"/>
<circle cx="247.40" cy="210.40" r="0.7" fill="#3452a8"/>
<circle cx="247.40" cy="212.20" r="0.7" fill="#3452a8"/>
<line x1="253.40" y1="209.2" x2="253.40" y2="224.1" stroke="#f5c47e" stroke-width="0.5"/>
<line x1="253.40" y1="232.4" x2="253.40" y2="239.8" stroke="#f5c47e" stroke-width="0.5"/>
<rect x="250.70" y="224.1" width="5.4" height="8.30" fill="#fff" stroke="#f5c47e" stroke-width="0.45"/>
<line x1="250.70" y1="229" x2="256.10" y2="229" stroke="#eeaa50" stroke-width="0.65"/>
<circle cx="253.40" cy="204.20" r="0.7" fill="#eeaa50"/>
<circle cx="253.40" cy="249.20" r="0.7" fill="#eeaa50"/>
<line x1="250.40" y1="262" x2="250.40" y2="263" stroke="#666" stroke-width="0.4"/>
<text transform="translate(251.30,266.0) rotate(-45)" font-size="3.5" text-anchor="end" fill="#222" stroke="#222" stroke-width="0.1">FADD</text>
<rect x="247.90" y="173.9" width="5.0" height="1.0" rx="0.45" fill="#999"/>
<line x1="261.47" y1="219" x2="261.47" y2="229.4" stroke="#6680d2" stroke-width="0.5"/>
<line x1="261.47" y1="236.2" x2="261.47" y2="244.9" stroke="#6680d2" stroke-width="0.5"/>
<rect x="258.77" y="229.4" width="5.4" height="6.80" fill="#fff" stroke="#6680d2" stroke-width="0.45"/>
<line x1="258.77" y1="233.6" x2="264.17" y2="233.6" stroke="#4560bc" stroke-width="0.65"/>
<circle cx="261.47" cy="202.00" r="0.7" fill="#3452a8"/>
<circle cx="261.47" cy="204.00" r="0.7" fill="#3452a8"/>
<circle cx="261.47" cy="210.00" r="0.7" fill="#3452a8"/>
<circle cx="261.47" cy="211.30" r="0.7" fill="#3452a8"/>
<circle cx="261.47" cy="212.60" r="0.7" fill="#3452a8"/>
<circle cx="261.47" cy="213.90" r="0.7" fill="#3452a8"/>
<circle cx="261.47" cy="215.20" r="0.7" fill="#3452a8"/>
<circle cx="261.47" cy="216.50" r="0.7" fill="#3452a8"/>
<circle cx="261.47" cy="217.80" r="0.7" fill="#3452a8"/>
<line x1="267.47" y1="208" x2="267.47" y2="223.2" stroke="#f5c47e" stroke-width="0.5"/>
<line x1="267.47" y1="232" x2="267.47" y2="239.8" stroke="#f5c47e" stroke-width="0.5"/>
<rect x="264.77" y="223.2" width="5.4" height="8.80" fill="#fff" stroke="#f5c47e" stroke-width="0.45"/>
<line x1="264.77" y1="227.5" x2="270.17" y2="227.5" stroke="#eeaa50" stroke-width="0.65"/>
<circle cx="267.47" cy="196.00" r="0.7" fill="#eeaa50"/>
<circle cx="267.47" cy="197.80" r="0.7" fill="#eeaa50"/>
<circle cx="267.47" cy="199.60" r="0.7" fill="#eeaa50"/>
<circle cx="267.47" cy="201.40" r="0.7" fill="#eeaa50"/>
<circle cx="267.47" cy="203.20" r="0.7" fill="#eeaa50"/>
<circle cx="267.47" cy="205.00" r="0.7" fill="#eeaa50"/>
<circle cx="267.47" cy="206.80" r="0.7" fill="#eeaa50"/>
<line x1="264.47" y1="262" x2="264.47" y2="263" stroke="#666" stroke-width="0.4"/>
<text transform="translate(265.37,266.0) rotate(-45)" font-size="3.5" text-anchor="end" fill="#222" stroke="#222" stroke-width="0.1">FAS</text>
<rect x="261.97" y="173.9" width="5.0" height="1.0" rx="0.45" fill="#999"/>
<line x1="275.54" y1="225.5" x2="275.54" y2="230.4" stroke="#6680d2" stroke-width="0.5"/>
<line x1="275.54" y1="235.3" x2="275.54" y2="237.5" stroke="#6680d2" stroke-width="0.5"/>
<rect x="272.84" y="230.4" width="5.4" height="4.90" fill="#fff" stroke="#6680d2" stroke-width="0.45"/>
<line x1="272.84" y1="233.4" x2="278.24" y2="233.4" stroke="#4560bc" stroke-width="0.65"/>
<circle cx="275.54" cy="192.30" r="0.7" fill="#3452a8"/>
<circle cx="275.54" cy="198.00" r="0.7" fill="#3452a8"/>
<circle cx="275.54" cy="200.50" r="0.7" fill="#3452a8"/>
<circle cx="275.54" cy="204.00" r="0.7" fill="#3452a8"/>
<circle cx="275.54" cy="207.50" r="0.7" fill="#3452a8"/>
<circle cx="275.54" cy="208.70" r="0.7" fill="#3452a8"/>
<circle cx="275.54" cy="209.90" r="0.7" fill="#3452a8"/>
<circle cx="275.54" cy="211.10" r="0.7" fill="#3452a8"/>
<circle cx="275.54" cy="212.30" r="0.7" fill="#3452a8"/>
<circle cx="275.54" cy="213.50" r="0.7" fill="#3452a8"/>
<circle cx="275.54" cy="214.70" r="0.7" fill="#3452a8"/>
<circle cx="275.54" cy="215.90" r="0.7" fill="#3452a8"/>
<circle cx="275.54" cy="217.10" r="0.7" fill="#3452a8"/>
<circle cx="275.54" cy="218.30" r="0.7" fill="#3452a8"/>
<circle cx="275.54" cy="219.50" r="0.7" fill="#3452a8"/>
<circle cx="275.54" cy="220.70" r="0.7" fill="#3452a8"/>
<circle cx="275.54" cy="221.90" r="0.7" fill="#3452a8"/>
<circle cx="275.54" cy="223.10" r="0.7" fill="#3452a8"/>
<circle cx="275.54" cy="224.30" r="0.7" fill="#3452a8"/>
<line x1="281.54" y1="216" x2="281.54" y2="226.7" stroke="#f5c47e" stroke-width="0.5"/>
<line x1="281.54" y1="231.6" x2="281.54" y2="239" stroke="#f5c47e" stroke-width="0.5"/>
<rect x="278.84" y="226.7" width="5.4" height="4.90" fill="#fff" stroke="#f5c47e" stroke-width="0.45"/>
<line x1="278.84" y1="229" x2="284.24" y2="229" stroke="#eeaa50" stroke-width="0.65"/>
<circle cx="281.54" cy="188.20" r="0.7" fill="#eeaa50"/>
<circle cx="281.54" cy="190.50" r="0.7" fill="#eeaa50"/>
<circle cx="281.54" cy="193.50" r="0.7" fill="#eeaa50"/>
<circle cx="281.54" cy="196.50" r="0.7" fill="#eeaa50"/>
<circle cx="281.54" cy="200.00" r="0.7" fill="#eeaa50"/>
<circle cx="281.54" cy="202.50" r="0.7" fill="#eeaa50"/>
<circle cx="281.54" cy="205.00" r="0.7" fill="#eeaa50"/>
<circle cx="281.54" cy="208.00" r="0.7" fill="#eeaa50"/>
<circle cx="281.54" cy="211.00" r="0.7" fill="#eeaa50"/>
<circle cx="281.54" cy="213.50" r="0.7" fill="#eeaa50"/>
<line x1="278.54" y1="262" x2="278.54" y2="263" stroke="#666" stroke-width="0.4"/>
<text transform="translate(279.44,266.0) rotate(-45)" font-size="3.5" text-anchor="end" fill="#222" stroke="#222" stroke-width="0.1">FASLG</text>
<rect x="276.04" y="173.9" width="5.0" height="1.0" rx="0.45" fill="#999"/>
<line x1="289.61" y1="212" x2="289.61" y2="225.5" stroke="#6680d2" stroke-width="0.5"/>
<line x1="289.61" y1="236.5" x2="289.61" y2="247" stroke="#6680d2" stroke-width="0.5"/>
<rect x="286.91" y="225.5" width="5.4" height="11.00" fill="#fff" stroke="#6680d2" stroke-width="0.45"/>
<line x1="286.91" y1="231.6" x2="292.31" y2="231.6" stroke="#4560bc" stroke-width="0.65"/>
<circle cx="289.61" cy="200.80" r="0.7" fill="#3452a8"/>
<circle cx="289.61" cy="203.00" r="0.7" fill="#3452a8"/>
<circle cx="289.61" cy="205.50" r="0.7" fill="#3452a8"/>
<circle cx="289.61" cy="208.00" r="0.7" fill="#3452a8"/>
<line x1="295.61" y1="210" x2="295.61" y2="225.2" stroke="#f5c47e" stroke-width="0.5"/>
<line x1="295.61" y1="233.1" x2="295.61" y2="242" stroke="#f5c47e" stroke-width="0.5"/>
<rect x="292.91" y="225.2" width="5.4" height="7.90" fill="#fff" stroke="#f5c47e" stroke-width="0.45"/>
<line x1="292.91" y1="227.8" x2="298.31" y2="227.8" stroke="#eeaa50" stroke-width="0.65"/>
<circle cx="295.61" cy="205.70" r="0.7" fill="#eeaa50"/>
<line x1="292.61" y1="262" x2="292.61" y2="263" stroke="#666" stroke-width="0.4"/>
<text transform="translate(293.51,266.0) rotate(-45)" font-size="3.5" text-anchor="end" fill="#222" stroke="#222" stroke-width="0.1">MLKL</text>
<rect x="290.11" y="173.9" width="5.0" height="1.0" rx="0.45" fill="#999"/>
<line x1="303.68" y1="215.8" x2="303.68" y2="227" stroke="#6680d2" stroke-width="0.5"/>
<line x1="303.68" y1="236.1" x2="303.68" y2="248.5" stroke="#6680d2" stroke-width="0.5"/>
<rect x="300.98" y="227" width="5.4" height="9.10" fill="#fff" stroke="#6680d2" stroke-width="0.45"/>
<line x1="300.98" y1="232.3" x2="306.38" y2="232.3" stroke="#4560bc" stroke-width="0.65"/>
<circle cx="303.68" cy="204.20" r="0.7" fill="#3452a8"/>
<circle cx="303.68" cy="210.30" r="0.7" fill="#3452a8"/>
<circle cx="303.68" cy="251.40" r="0.7" fill="#3452a8"/>
<circle cx="303.68" cy="255.70" r="0.7" fill="#3452a8"/>
<line x1="309.68" y1="212" x2="309.68" y2="223.7" stroke="#f5c47e" stroke-width="0.5"/>
<line x1="309.68" y1="231.2" x2="309.68" y2="240" stroke="#f5c47e" stroke-width="0.5"/>
<rect x="306.98" y="223.7" width="5.4" height="7.50" fill="#fff" stroke="#f5c47e" stroke-width="0.45"/>
<line x1="306.98" y1="227.4" x2="312.38" y2="227.4" stroke="#eeaa50" stroke-width="0.65"/>
<circle cx="309.68" cy="207.50" r="0.7" fill="#eeaa50"/>
<circle cx="309.68" cy="242.70" r="0.7" fill="#eeaa50"/>
<circle cx="309.68" cy="246.80" r="0.7" fill="#eeaa50"/>
<line x1="306.68" y1="262" x2="306.68" y2="263" stroke="#666" stroke-width="0.4"/>
<text transform="translate(307.58,266.0) rotate(-45)" font-size="3.5" text-anchor="end" fill="#222" stroke="#222" stroke-width="0.1">RIPK1</text>
<rect x="304.18" y="173.9" width="5.0" height="1.0" rx="0.45" fill="#999"/>
<line x1="317.75" y1="215" x2="317.75" y2="226.3" stroke="#6680d2" stroke-width="0.5"/>
<line x1="317.75" y1="235.3" x2="317.75" y2="241.2" stroke="#6680d2" stroke-width="0.5"/>
<rect x="315.05" y="226.3" width="5.4" height="9.00" fill="#fff" stroke="#6680d2" stroke-width="0.45"/>
<line x1="315.05" y1="231.2" x2="320.45" y2="231.2" stroke="#4560bc" stroke-width="0.65"/>
<circle cx="317.75" cy="177.40" r="0.7" fill="#3452a8"/>
<circle cx="317.75" cy="200.50" r="0.7" fill="#3452a8"/>
<circle cx="317.75" cy="206.00" r="0.7" fill="#3452a8"/>
<circle cx="317.75" cy="212.50" r="0.7" fill="#3452a8"/>
<line x1="323.75" y1="216" x2="323.75" y2="227.8" stroke="#f5c47e" stroke-width="0.5"/>
<line x1="323.75" y1="234.2" x2="323.75" y2="240.5" stroke="#f5c47e" stroke-width="0.5"/>
<rect x="321.05" y="227.8" width="5.4" height="6.40" fill="#fff" stroke="#f5c47e" stroke-width="0.45"/>
<line x1="321.05" y1="231.2" x2="326.45" y2="231.2" stroke="#eeaa50" stroke-width="0.65"/>
<circle cx="323.75" cy="203.00" r="0.7" fill="#eeaa50"/>
<circle cx="323.75" cy="205.00" r="0.7" fill="#eeaa50"/>
<circle cx="323.75" cy="210.00" r="0.7" fill="#eeaa50"/>
<circle cx="323.75" cy="212.00" r="0.7" fill="#eeaa50"/>
<circle cx="323.75" cy="214.00" r="0.7" fill="#eeaa50"/>
<line x1="320.75" y1="262" x2="320.75" y2="263" stroke="#666" stroke-width="0.4"/>
<text transform="translate(321.65,266.0) rotate(-45)" font-size="3.5" text-anchor="end" fill="#222" stroke="#222" stroke-width="0.1">RIPK3</text>
<text x="320.75" y="176.3" font-size="3.4" text-anchor="middle" fill="#555">ns</text>
<line x1="331.82" y1="228.3" x2="331.82" y2="230.7" stroke="#6680d2" stroke-width="0.5"/>
<line x1="331.82" y1="237.9" x2="331.82" y2="241.2" stroke="#6680d2" stroke-width="0.5"/>
<rect x="329.12" y="230.7" width="5.4" height="7.20" fill="#fff" stroke="#6680d2" stroke-width="0.45"/>
<line x1="329.12" y1="234.8" x2="334.52" y2="234.8" stroke="#4560bc" stroke-width="0.65"/>
<line x1="337.82" y1="212" x2="337.82" y2="221.1" stroke="#f5c47e" stroke-width="0.5"/>
<line x1="337.82" y1="227.3" x2="337.82" y2="230.7" stroke="#f5c47e" stroke-width="0.5"/>
<rect x="335.12" y="221.1" width="5.4" height="6.20" fill="#fff" stroke="#f5c47e" stroke-width="0.45"/>
<line x1="335.12" y1="224" x2="340.52" y2="224" stroke="#eeaa50" stroke-width="0.65"/>
<circle cx="337.82" cy="199.40" r="0.7" fill="#eeaa50"/>
<circle cx="337.82" cy="205.00" r="0.7" fill="#eeaa50"/>
<circle cx="337.82" cy="209.00" r="0.7" fill="#eeaa50"/>
<line x1="334.82" y1="262" x2="334.82" y2="263" stroke="#666" stroke-width="0.4"/>
<text transform="translate(335.72,266.0) rotate(-45)" font-size="3.5" text-anchor="end" fill="#222" stroke="#222" stroke-width="0.1">TLR3</text>
<rect x="332.32" y="173.9" width="5.0" height="1.0" rx="0.45" fill="#999"/>
<line x1="345.89" y1="222" x2="345.89" y2="229" stroke="#6680d2" stroke-width="0.5"/>
<line x1="345.89" y1="234.2" x2="345.89" y2="237.5" stroke="#6680d2" stroke-width="0.5"/>
<rect x="343.19" y="229" width="5.4" height="5.20" fill="#fff" stroke="#6680d2" stroke-width="0.45"/>
<line x1="343.19" y1="232.1" x2="348.59" y2="232.1" stroke="#4560bc" stroke-width="0.65"/>
<circle cx="345.89" cy="202.50" r="0.7" fill="#3452a8"/>
<circle cx="345.89" cy="204.50" r="0.7" fill="#3452a8"/>
<circle cx="345.89" cy="207.40" r="0.7" fill="#3452a8"/>
<circle cx="345.89" cy="209.50" r="0.7" fill="#3452a8"/>
<circle cx="345.89" cy="210.80" r="0.7" fill="#3452a8"/>
<circle cx="345.89" cy="212.10" r="0.7" fill="#3452a8"/>
<circle cx="345.89" cy="213.40" r="0.7" fill="#3452a8"/>
<circle cx="345.89" cy="214.70" r="0.7" fill="#3452a8"/>
<circle cx="345.89" cy="216.00" r="0.7" fill="#3452a8"/>
<circle cx="345.89" cy="217.30" r="0.7" fill="#3452a8"/>
<circle cx="345.89" cy="218.60" r="0.7" fill="#3452a8"/>
<circle cx="345.89" cy="219.90" r="0.7" fill="#3452a8"/>
<circle cx="345.89" cy="221.20" r="0.7" fill="#3452a8"/>
<line x1="351.89" y1="216" x2="351.89" y2="228.8" stroke="#f5c47e" stroke-width="0.5"/>
<line x1="351.89" y1="234.5" x2="351.89" y2="240" stroke="#f5c47e" stroke-width="0.5"/>
<rect x="349.19" y="228.8" width="5.4" height="5.70" fill="#fff" stroke="#f5c47e" stroke-width="0.45"/>
<line x1="349.19" y1="231.7" x2="354.59" y2="231.7" stroke="#eeaa50" stroke-width="0.65"/>
<circle cx="351.89" cy="194.20" r="0.7" fill="#eeaa50"/>
<circle cx="351.89" cy="195.80" r="0.7" fill="#eeaa50"/>
<circle cx="351.89" cy="197.40" r="0.7" fill="#eeaa50"/>
<circle cx="351.89" cy="199.00" r="0.7" fill="#eeaa50"/>
<circle cx="351.89" cy="200.60" r="0.7" fill="#eeaa50"/>
<circle cx="351.89" cy="202.20" r="0.7" fill="#eeaa50"/>
<circle cx="351.89" cy="203.80" r="0.7" fill="#eeaa50"/>
<circle cx="351.89" cy="205.40" r="0.7" fill="#eeaa50"/>
<circle cx="351.89" cy="207.00" r="0.7" fill="#eeaa50"/>
<circle cx="351.89" cy="208.60" r="0.7" fill="#eeaa50"/>
<circle cx="351.89" cy="210.20" r="0.7" fill="#eeaa50"/>
<circle cx="351.89" cy="211.80" r="0.7" fill="#eeaa50"/>
<circle cx="351.89" cy="213.40" r="0.7" fill="#eeaa50"/>
<line x1="348.89" y1="262" x2="348.89" y2="263" stroke="#666" stroke-width="0.4"/>
<text transform="translate(349.79,266.0) rotate(-45)" font-size="3.5" text-anchor="end" fill="#222" stroke="#222" stroke-width="0.1">TNF</text>
<text x="348.89" y="176.3" font-size="3.4" text-anchor="middle" fill="#555">ns</text>
<line x1="359.96" y1="212.5" x2="359.96" y2="225.1" stroke="#6680d2" stroke-width="0.5"/>
<line x1="359.96" y1="235.8" x2="359.96" y2="249" stroke="#6680d2" stroke-width="0.5"/>
<rect x="357.26" y="225.1" width="5.4" height="10.70" fill="#fff" stroke="#6680d2" stroke-width="0.45"/>
<line x1="357.26" y1="230.2" x2="362.66" y2="230.2" stroke="#4560bc" stroke-width="0.65"/>
<circle cx="359.96" cy="250.70" r="0.7" fill="#3452a8"/>
<circle cx="359.96" cy="252.10" r="0.7" fill="#3452a8"/>
<circle cx="359.96" cy="253.50" r="0.7" fill="#3452a8"/>
<circle cx="359.96" cy="257.50" r="0.7" fill="#3452a8"/>
<line x1="365.96" y1="212.5" x2="365.96" y2="225.7" stroke="#f5c47e" stroke-width="0.5"/>
<line x1="365.96" y1="233" x2="365.96" y2="243.7" stroke="#f5c47e" stroke-width="0.5"/>
<rect x="363.26" y="225.7" width="5.4" height="7.30" fill="#fff" stroke="#f5c47e" stroke-width="0.45"/>
<line x1="363.26" y1="229.1" x2="368.66" y2="229.1" stroke="#eeaa50" stroke-width="0.65"/>
<line x1="362.96" y1="262" x2="362.96" y2="263" stroke="#666" stroke-width="0.4"/>
<text transform="translate(363.86,266.0) rotate(-45)" font-size="3.5" text-anchor="end" fill="#222" stroke="#222" stroke-width="0.1">StromalScore</text>
<text x="362.96" y="176.3" font-size="3.4" text-anchor="middle" fill="#555">ns</text>
<line x1="374.03" y1="212" x2="374.03" y2="225.3" stroke="#6680d2" stroke-width="0.5"/>
<line x1="374.03" y1="235.8" x2="374.03" y2="247.5" stroke="#6680d2" stroke-width="0.5"/>
<rect x="371.33" y="225.3" width="5.4" height="10.50" fill="#fff" stroke="#6680d2" stroke-width="0.45"/>
<line x1="371.33" y1="231.3" x2="376.73" y2="231.3" stroke="#4560bc" stroke-width="0.65"/>
<circle cx="374.03" cy="250.50" r="0.7" fill="#3452a8"/>
<circle cx="374.03" cy="253.00" r="0.7" fill="#3452a8"/>
<line x1="380.03" y1="214" x2="380.03" y2="224.9" stroke="#f5c47e" stroke-width="0.5"/>
<line x1="380.03" y1="233" x2="380.03" y2="242" stroke="#f5c47e" stroke-width="0.5"/>
<rect x="377.33" y="224.9" width="5.4" height="8.10" fill="#fff" stroke="#f5c47e" stroke-width="0.45"/>
<line x1="377.33" y1="229" x2="382.73" y2="229" stroke="#eeaa50" stroke-width="0.65"/>
<circle cx="380.03" cy="246.50" r="0.7" fill="#eeaa50"/>
<line x1="377.03" y1="262" x2="377.03" y2="263" stroke="#666" stroke-width="0.4"/>
<text transform="translate(377.93,266.0) rotate(-45)" font-size="3.5" text-anchor="end" fill="#222" stroke="#222" stroke-width="0.1">ImmuneScore</text>
<rect x="374.53" y="173.9" width="5.0" height="1.0" rx="0.45" fill="#999"/>
<line x1="388.10" y1="212" x2="388.10" y2="225.7" stroke="#6680d2" stroke-width="0.5"/>
<line x1="388.10" y1="235.8" x2="388.10" y2="249" stroke="#6680d2" stroke-width="0.5"/>
<rect x="385.40" y="225.7" width="5.4" height="10.10" fill="#fff" stroke="#6680d2" stroke-width="0.45"/>
<line x1="385.40" y1="230.2" x2="390.80" y2="230.2" stroke="#4560bc" stroke-width="0.65"/>
<circle cx="388.10" cy="250.30" r="0.7" fill="#3452a8"/>
<circle cx="388.10" cy="251.60" r="0.7" fill="#3452a8"/>
<circle cx="388.10" cy="253.00" r="0.7" fill="#3452a8"/>
<circle cx="388.10" cy="256.50" r="0.7" fill="#3452a8"/>
<circle cx="388.10" cy="258.00" r="0.7" fill="#3452a8"/>
<line x1="394.10" y1="214" x2="394.10" y2="225.1" stroke="#f5c47e" stroke-width="0.5"/>
<line x1="394.10" y1="232.4" x2="394.10" y2="246" stroke="#f5c47e" stroke-width="0.5"/>
<rect x="391.40" y="225.1" width="5.4" height="7.30" fill="#fff" stroke="#f5c47e" stroke-width="0.45"/>
<line x1="391.40" y1="228.5" x2="396.80" y2="228.5" stroke="#eeaa50" stroke-width="0.65"/>
<line x1="391.10" y1="262" x2="391.10" y2="263" stroke="#666" stroke-width="0.4"/>
<text transform="translate(392.00,266.0) rotate(-45)" font-size="3.5" text-anchor="end" fill="#222" stroke="#222" stroke-width="0.1">ESTIMATEScore</text>
<rect x="388.60" y="173.9" width="5.0" height="1.0" rx="0.45" fill="#999"/>
</svg>
</body></html>
